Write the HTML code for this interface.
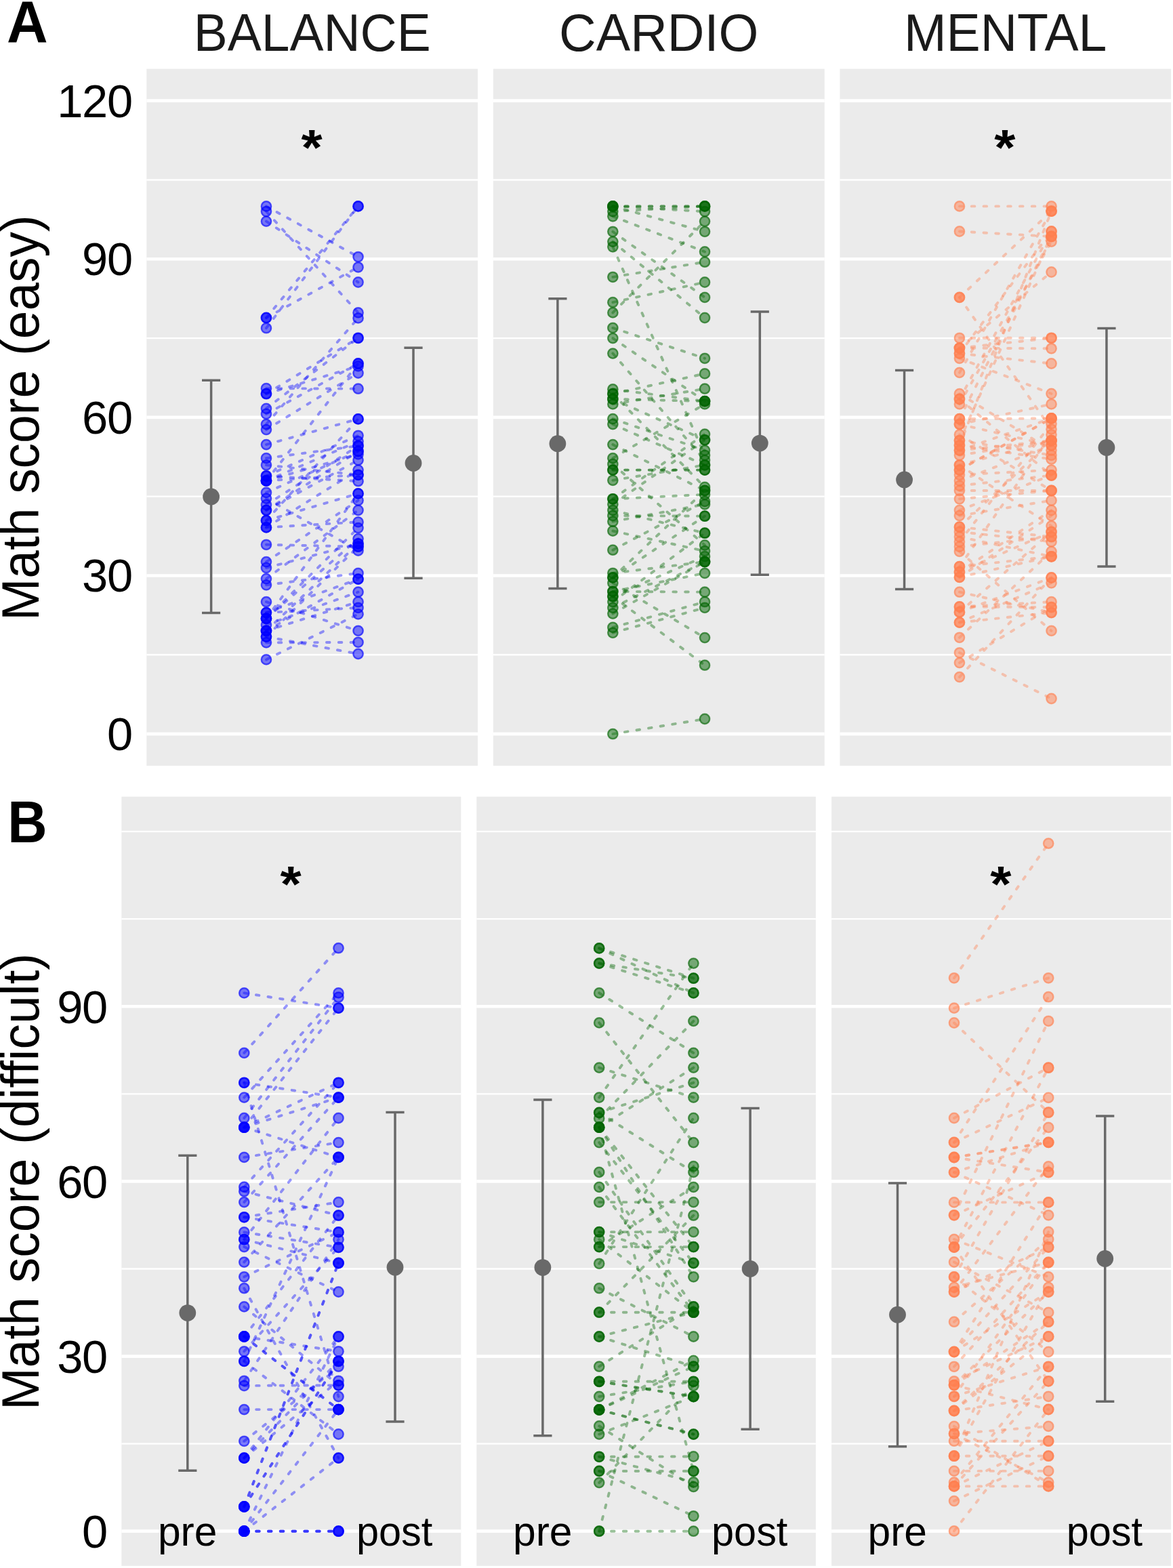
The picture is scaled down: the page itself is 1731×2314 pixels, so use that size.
<!DOCTYPE html>
<html lang="en"><head><meta charset="utf-8"><title>Math score pre/post by intervention group</title>
<style>html,body{margin:0;padding:0;background:#fff}body{width:1731px;height:2314px;overflow:hidden}svg{display:block}text{font-family:"Liberation Sans", sans-serif}</style>
</head><body>
<svg width="1731" height="2314" viewBox="0 0 1731 2314" role="img" aria-label="Math score pre and post by group">
<rect width="1731" height="2314" fill="#fff"/>
<g fill="#ebebeb">
<rect x="216.3" y="101.6" width="488.75" height="1028.5"/>
<rect x="727.9" y="101.6" width="488.85" height="1028.5"/>
<rect x="1239.4" y="101.6" width="488.7" height="1028.5"/>
<rect x="179.35" y="1175.7" width="500.95" height="1135.2"/>
<rect x="703.3" y="1175.7" width="500.6" height="1135.2"/>
<rect x="1227.1" y="1175.7" width="501" height="1135.2"/>
</g>
<g stroke="#fff" fill="none">
<path stroke-width="4.7" d="M216.3 1083.1H705.05"/>
<path stroke-width="4.7" d="M216.3 849.49H705.05"/>
<path stroke-width="4.7" d="M216.3 615.88H705.05"/>
<path stroke-width="4.7" d="M216.3 382.27H705.05"/>
<path stroke-width="4.7" d="M216.3 148.66H705.05"/>
<path stroke-width="2.35" d="M216.3 966.29H705.05"/>
<path stroke-width="2.35" d="M216.3 732.68H705.05"/>
<path stroke-width="2.35" d="M216.3 499.07H705.05"/>
<path stroke-width="2.35" d="M216.3 265.46H705.05"/>
<path stroke-width="4.7" d="M727.9 1083.1H1216.75"/>
<path stroke-width="4.7" d="M727.9 849.49H1216.75"/>
<path stroke-width="4.7" d="M727.9 615.88H1216.75"/>
<path stroke-width="4.7" d="M727.9 382.27H1216.75"/>
<path stroke-width="4.7" d="M727.9 148.66H1216.75"/>
<path stroke-width="2.35" d="M727.9 966.29H1216.75"/>
<path stroke-width="2.35" d="M727.9 732.68H1216.75"/>
<path stroke-width="2.35" d="M727.9 499.07H1216.75"/>
<path stroke-width="2.35" d="M727.9 265.46H1216.75"/>
<path stroke-width="4.7" d="M1239.4 1083.1H1728.1"/>
<path stroke-width="4.7" d="M1239.4 849.49H1728.1"/>
<path stroke-width="4.7" d="M1239.4 615.88H1728.1"/>
<path stroke-width="4.7" d="M1239.4 382.27H1728.1"/>
<path stroke-width="4.7" d="M1239.4 148.66H1728.1"/>
<path stroke-width="2.35" d="M1239.4 966.29H1728.1"/>
<path stroke-width="2.35" d="M1239.4 732.68H1728.1"/>
<path stroke-width="2.35" d="M1239.4 499.07H1728.1"/>
<path stroke-width="2.35" d="M1239.4 265.46H1728.1"/>
<path stroke-width="4.7" d="M179.35 2259.7H680.3"/>
<path stroke-width="4.7" d="M179.35 2001.55H680.3"/>
<path stroke-width="4.7" d="M179.35 1743.4H680.3"/>
<path stroke-width="4.7" d="M179.35 1485.25H680.3"/>
<path stroke-width="2.35" d="M179.35 2130.62H680.3"/>
<path stroke-width="2.35" d="M179.35 1872.47H680.3"/>
<path stroke-width="2.35" d="M179.35 1614.32H680.3"/>
<path stroke-width="2.35" d="M179.35 1356.17H680.3"/>
<path stroke-width="2.35" d="M179.35 1227.1H680.3"/>
<path stroke-width="4.7" d="M703.3 2259.7H1203.9"/>
<path stroke-width="4.7" d="M703.3 2001.55H1203.9"/>
<path stroke-width="4.7" d="M703.3 1743.4H1203.9"/>
<path stroke-width="4.7" d="M703.3 1485.25H1203.9"/>
<path stroke-width="2.35" d="M703.3 2130.62H1203.9"/>
<path stroke-width="2.35" d="M703.3 1872.47H1203.9"/>
<path stroke-width="2.35" d="M703.3 1614.32H1203.9"/>
<path stroke-width="2.35" d="M703.3 1356.17H1203.9"/>
<path stroke-width="2.35" d="M703.3 1227.1H1203.9"/>
<path stroke-width="4.7" d="M1227.1 2259.7H1728.1"/>
<path stroke-width="4.7" d="M1227.1 2001.55H1728.1"/>
<path stroke-width="4.7" d="M1227.1 1743.4H1728.1"/>
<path stroke-width="4.7" d="M1227.1 1485.25H1728.1"/>
<path stroke-width="2.35" d="M1227.1 2130.62H1728.1"/>
<path stroke-width="2.35" d="M1227.1 1872.47H1728.1"/>
<path stroke-width="2.35" d="M1227.1 1614.32H1728.1"/>
<path stroke-width="2.35" d="M1227.1 1356.17H1728.1"/>
<path stroke-width="2.35" d="M1227.1 1227.1H1728.1"/>
</g>
<g id="A1">
<g fill="none" stroke="#0000ff" stroke-opacity="0.4" stroke-width="3.9" stroke-linecap="round" stroke-dasharray="4.6 13.2">
<path d="M392.95 304.4L528.55 379.05"/>
<path d="M392.95 312.05L528.55 461.4"/>
<path d="M392.95 326.6L528.55 416.5"/>
<path d="M392.95 469L528.55 304.4"/>
<path d="M392.95 469L528.55 394.3"/>
<path d="M392.95 484.2L528.55 304.4"/>
<path d="M392.95 626.1L528.55 469.4"/>
<path d="M392.95 581.2L528.55 498.8"/>
<path d="M392.95 573.2L528.55 573.7"/>
<path d="M392.95 948.3L528.55 947.9"/>
<path d="M392.95 939.6L528.55 965"/>
<path d="M392.95 888.2L528.55 930.9"/>
<path d="M392.95 973.4L528.55 906.3"/>
<path d="M392.95 581.2L528.55 540.4"/>
<path d="M392.95 610.9L528.55 536.5"/>
<path d="M392.95 634.1L528.55 550.5"/>
<path d="M392.95 602.9L528.55 498.8"/>
<path d="M392.95 709.5L528.55 536.5"/>
<path d="M392.95 656.1L528.55 618.4"/>
<path d="M392.95 768.2L528.55 618.4"/>
<path d="M392.95 676.2L528.55 658"/>
<path d="M392.95 702.3L528.55 642.8"/>
<path d="M392.95 702.3L528.55 710.2"/>
<path d="M392.95 709.5L528.55 670.4"/>
<path d="M392.95 709.5L528.55 651.5"/>
<path d="M392.95 745L528.55 658"/>
<path d="M392.95 753L528.55 666"/>
<path d="M392.95 726.9L528.55 666"/>
<path d="M392.95 686.3L528.55 700.8"/>
<path d="M392.95 753L528.55 679.1"/>
<path d="M392.95 709.5L528.55 700.8"/>
<path d="M392.95 778.4L528.55 693.6"/>
<path d="M392.95 768.2L528.55 728.4"/>
<path d="M392.95 829.1L528.55 738.5"/>
<path d="M392.95 778.4L528.55 770.4"/>
<path d="M392.95 854.1L528.55 753"/>
<path d="M392.95 912.8L528.55 728.4"/>
<path d="M392.95 735.6L528.55 812.5"/>
<path d="M392.95 803.8L528.55 806.7"/>
<path d="M392.95 863.3L528.55 845.9"/>
<path d="M392.95 838L528.55 802.3"/>
<path d="M392.95 912.8L528.55 795.1"/>
<path d="M392.95 930.9L528.55 802.3"/>
<path d="M392.95 904.1L528.55 854.6"/>
<path d="M392.95 930.9L528.55 888.2"/>
<path d="M392.95 930.9L528.55 854.6"/>
<path d="M392.95 912.8L528.55 779.1"/>
<path d="M392.95 939.6L528.55 806.7"/>
<path d="M392.95 904.1L528.55 896.9"/>
<path d="M392.95 922.2L528.55 873.7"/>
</g>
<g fill="#0000ff" fill-opacity="0.5">
<circle cx="392.95" cy="304.4" r="7.9"/>
<circle cx="392.95" cy="312.05" r="7.9"/>
<circle cx="392.95" cy="326.6" r="7.9"/>
<circle cx="392.95" cy="469" r="7.9"/>
<circle cx="392.95" cy="469" r="7.9"/>
<circle cx="392.95" cy="484.2" r="7.9"/>
<circle cx="392.95" cy="626.1" r="7.9"/>
<circle cx="392.95" cy="581.2" r="7.9"/>
<circle cx="392.95" cy="573.2" r="7.9"/>
<circle cx="392.95" cy="948.3" r="7.9"/>
<circle cx="392.95" cy="939.6" r="7.9"/>
<circle cx="392.95" cy="888.2" r="7.9"/>
<circle cx="392.95" cy="973.4" r="7.9"/>
<circle cx="392.95" cy="581.2" r="7.9"/>
<circle cx="392.95" cy="610.9" r="7.9"/>
<circle cx="392.95" cy="634.1" r="7.9"/>
<circle cx="392.95" cy="602.9" r="7.9"/>
<circle cx="392.95" cy="709.5" r="7.9"/>
<circle cx="392.95" cy="656.1" r="7.9"/>
<circle cx="392.95" cy="768.2" r="7.9"/>
<circle cx="392.95" cy="676.2" r="7.9"/>
<circle cx="392.95" cy="702.3" r="7.9"/>
<circle cx="392.95" cy="702.3" r="7.9"/>
<circle cx="392.95" cy="709.5" r="7.9"/>
<circle cx="392.95" cy="709.5" r="7.9"/>
<circle cx="392.95" cy="745" r="7.9"/>
<circle cx="392.95" cy="753" r="7.9"/>
<circle cx="392.95" cy="726.9" r="7.9"/>
<circle cx="392.95" cy="686.3" r="7.9"/>
<circle cx="392.95" cy="753" r="7.9"/>
<circle cx="392.95" cy="709.5" r="7.9"/>
<circle cx="392.95" cy="778.4" r="7.9"/>
<circle cx="392.95" cy="768.2" r="7.9"/>
<circle cx="392.95" cy="829.1" r="7.9"/>
<circle cx="392.95" cy="778.4" r="7.9"/>
<circle cx="392.95" cy="854.1" r="7.9"/>
<circle cx="392.95" cy="912.8" r="7.9"/>
<circle cx="392.95" cy="735.6" r="7.9"/>
<circle cx="392.95" cy="803.8" r="7.9"/>
<circle cx="392.95" cy="863.3" r="7.9"/>
<circle cx="392.95" cy="838" r="7.9"/>
<circle cx="392.95" cy="912.8" r="7.9"/>
<circle cx="392.95" cy="930.9" r="7.9"/>
<circle cx="392.95" cy="904.1" r="7.9"/>
<circle cx="392.95" cy="930.9" r="7.9"/>
<circle cx="392.95" cy="930.9" r="7.9"/>
<circle cx="392.95" cy="912.8" r="7.9"/>
<circle cx="392.95" cy="939.6" r="7.9"/>
<circle cx="392.95" cy="904.1" r="7.9"/>
<circle cx="392.95" cy="922.2" r="7.9"/>
<circle cx="528.55" cy="379.05" r="7.9"/>
<circle cx="528.55" cy="461.4" r="7.9"/>
<circle cx="528.55" cy="416.5" r="7.9"/>
<circle cx="528.55" cy="304.4" r="7.9"/>
<circle cx="528.55" cy="394.3" r="7.9"/>
<circle cx="528.55" cy="304.4" r="7.9"/>
<circle cx="528.55" cy="469.4" r="7.9"/>
<circle cx="528.55" cy="498.8" r="7.9"/>
<circle cx="528.55" cy="573.7" r="7.9"/>
<circle cx="528.55" cy="947.9" r="7.9"/>
<circle cx="528.55" cy="965" r="7.9"/>
<circle cx="528.55" cy="930.9" r="7.9"/>
<circle cx="528.55" cy="906.3" r="7.9"/>
<circle cx="528.55" cy="540.4" r="7.9"/>
<circle cx="528.55" cy="536.5" r="7.9"/>
<circle cx="528.55" cy="550.5" r="7.9"/>
<circle cx="528.55" cy="498.8" r="7.9"/>
<circle cx="528.55" cy="536.5" r="7.9"/>
<circle cx="528.55" cy="618.4" r="7.9"/>
<circle cx="528.55" cy="618.4" r="7.9"/>
<circle cx="528.55" cy="658" r="7.9"/>
<circle cx="528.55" cy="642.8" r="7.9"/>
<circle cx="528.55" cy="710.2" r="7.9"/>
<circle cx="528.55" cy="670.4" r="7.9"/>
<circle cx="528.55" cy="651.5" r="7.9"/>
<circle cx="528.55" cy="658" r="7.9"/>
<circle cx="528.55" cy="666" r="7.9"/>
<circle cx="528.55" cy="666" r="7.9"/>
<circle cx="528.55" cy="700.8" r="7.9"/>
<circle cx="528.55" cy="679.1" r="7.9"/>
<circle cx="528.55" cy="700.8" r="7.9"/>
<circle cx="528.55" cy="693.6" r="7.9"/>
<circle cx="528.55" cy="728.4" r="7.9"/>
<circle cx="528.55" cy="738.5" r="7.9"/>
<circle cx="528.55" cy="770.4" r="7.9"/>
<circle cx="528.55" cy="753" r="7.9"/>
<circle cx="528.55" cy="728.4" r="7.9"/>
<circle cx="528.55" cy="812.5" r="7.9"/>
<circle cx="528.55" cy="806.7" r="7.9"/>
<circle cx="528.55" cy="845.9" r="7.9"/>
<circle cx="528.55" cy="802.3" r="7.9"/>
<circle cx="528.55" cy="795.1" r="7.9"/>
<circle cx="528.55" cy="802.3" r="7.9"/>
<circle cx="528.55" cy="854.6" r="7.9"/>
<circle cx="528.55" cy="888.2" r="7.9"/>
<circle cx="528.55" cy="854.6" r="7.9"/>
<circle cx="528.55" cy="779.1" r="7.9"/>
<circle cx="528.55" cy="806.7" r="7.9"/>
<circle cx="528.55" cy="896.9" r="7.9"/>
<circle cx="528.55" cy="873.7" r="7.9"/>
</g>
<g fill="none" stroke="#0000ff" stroke-opacity="0.5" stroke-width="2.5">
<circle cx="392.95" cy="304.4" r="7.15"/>
<circle cx="392.95" cy="312.05" r="7.15"/>
<circle cx="392.95" cy="326.6" r="7.15"/>
<circle cx="392.95" cy="469" r="7.15"/>
<circle cx="392.95" cy="469" r="7.15"/>
<circle cx="392.95" cy="484.2" r="7.15"/>
<circle cx="392.95" cy="626.1" r="7.15"/>
<circle cx="392.95" cy="581.2" r="7.15"/>
<circle cx="392.95" cy="573.2" r="7.15"/>
<circle cx="392.95" cy="948.3" r="7.15"/>
<circle cx="392.95" cy="939.6" r="7.15"/>
<circle cx="392.95" cy="888.2" r="7.15"/>
<circle cx="392.95" cy="973.4" r="7.15"/>
<circle cx="392.95" cy="581.2" r="7.15"/>
<circle cx="392.95" cy="610.9" r="7.15"/>
<circle cx="392.95" cy="634.1" r="7.15"/>
<circle cx="392.95" cy="602.9" r="7.15"/>
<circle cx="392.95" cy="709.5" r="7.15"/>
<circle cx="392.95" cy="656.1" r="7.15"/>
<circle cx="392.95" cy="768.2" r="7.15"/>
<circle cx="392.95" cy="676.2" r="7.15"/>
<circle cx="392.95" cy="702.3" r="7.15"/>
<circle cx="392.95" cy="702.3" r="7.15"/>
<circle cx="392.95" cy="709.5" r="7.15"/>
<circle cx="392.95" cy="709.5" r="7.15"/>
<circle cx="392.95" cy="745" r="7.15"/>
<circle cx="392.95" cy="753" r="7.15"/>
<circle cx="392.95" cy="726.9" r="7.15"/>
<circle cx="392.95" cy="686.3" r="7.15"/>
<circle cx="392.95" cy="753" r="7.15"/>
<circle cx="392.95" cy="709.5" r="7.15"/>
<circle cx="392.95" cy="778.4" r="7.15"/>
<circle cx="392.95" cy="768.2" r="7.15"/>
<circle cx="392.95" cy="829.1" r="7.15"/>
<circle cx="392.95" cy="778.4" r="7.15"/>
<circle cx="392.95" cy="854.1" r="7.15"/>
<circle cx="392.95" cy="912.8" r="7.15"/>
<circle cx="392.95" cy="735.6" r="7.15"/>
<circle cx="392.95" cy="803.8" r="7.15"/>
<circle cx="392.95" cy="863.3" r="7.15"/>
<circle cx="392.95" cy="838" r="7.15"/>
<circle cx="392.95" cy="912.8" r="7.15"/>
<circle cx="392.95" cy="930.9" r="7.15"/>
<circle cx="392.95" cy="904.1" r="7.15"/>
<circle cx="392.95" cy="930.9" r="7.15"/>
<circle cx="392.95" cy="930.9" r="7.15"/>
<circle cx="392.95" cy="912.8" r="7.15"/>
<circle cx="392.95" cy="939.6" r="7.15"/>
<circle cx="392.95" cy="904.1" r="7.15"/>
<circle cx="392.95" cy="922.2" r="7.15"/>
<circle cx="528.55" cy="379.05" r="7.15"/>
<circle cx="528.55" cy="461.4" r="7.15"/>
<circle cx="528.55" cy="416.5" r="7.15"/>
<circle cx="528.55" cy="304.4" r="7.15"/>
<circle cx="528.55" cy="394.3" r="7.15"/>
<circle cx="528.55" cy="304.4" r="7.15"/>
<circle cx="528.55" cy="469.4" r="7.15"/>
<circle cx="528.55" cy="498.8" r="7.15"/>
<circle cx="528.55" cy="573.7" r="7.15"/>
<circle cx="528.55" cy="947.9" r="7.15"/>
<circle cx="528.55" cy="965" r="7.15"/>
<circle cx="528.55" cy="930.9" r="7.15"/>
<circle cx="528.55" cy="906.3" r="7.15"/>
<circle cx="528.55" cy="540.4" r="7.15"/>
<circle cx="528.55" cy="536.5" r="7.15"/>
<circle cx="528.55" cy="550.5" r="7.15"/>
<circle cx="528.55" cy="498.8" r="7.15"/>
<circle cx="528.55" cy="536.5" r="7.15"/>
<circle cx="528.55" cy="618.4" r="7.15"/>
<circle cx="528.55" cy="618.4" r="7.15"/>
<circle cx="528.55" cy="658" r="7.15"/>
<circle cx="528.55" cy="642.8" r="7.15"/>
<circle cx="528.55" cy="710.2" r="7.15"/>
<circle cx="528.55" cy="670.4" r="7.15"/>
<circle cx="528.55" cy="651.5" r="7.15"/>
<circle cx="528.55" cy="658" r="7.15"/>
<circle cx="528.55" cy="666" r="7.15"/>
<circle cx="528.55" cy="666" r="7.15"/>
<circle cx="528.55" cy="700.8" r="7.15"/>
<circle cx="528.55" cy="679.1" r="7.15"/>
<circle cx="528.55" cy="700.8" r="7.15"/>
<circle cx="528.55" cy="693.6" r="7.15"/>
<circle cx="528.55" cy="728.4" r="7.15"/>
<circle cx="528.55" cy="738.5" r="7.15"/>
<circle cx="528.55" cy="770.4" r="7.15"/>
<circle cx="528.55" cy="753" r="7.15"/>
<circle cx="528.55" cy="728.4" r="7.15"/>
<circle cx="528.55" cy="812.5" r="7.15"/>
<circle cx="528.55" cy="806.7" r="7.15"/>
<circle cx="528.55" cy="845.9" r="7.15"/>
<circle cx="528.55" cy="802.3" r="7.15"/>
<circle cx="528.55" cy="795.1" r="7.15"/>
<circle cx="528.55" cy="802.3" r="7.15"/>
<circle cx="528.55" cy="854.6" r="7.15"/>
<circle cx="528.55" cy="888.2" r="7.15"/>
<circle cx="528.55" cy="854.6" r="7.15"/>
<circle cx="528.55" cy="779.1" r="7.15"/>
<circle cx="528.55" cy="806.7" r="7.15"/>
<circle cx="528.55" cy="896.9" r="7.15"/>
<circle cx="528.55" cy="873.7" r="7.15"/>
</g>
<g stroke="#696969" stroke-width="3.5" fill="#696969">
<path d="M311.6 561.3V904.5 M298 561.3H325.2 M298 904.5H325.2" fill="none"/>
<circle cx="311.6" cy="732.9" r="12.4" stroke="none"/>
<path d="M610 513.3V853.2 M596.4 513.3H623.6 M596.4 853.2H623.6" fill="none"/>
<circle cx="610" cy="683.4" r="12.4" stroke="none"/>
</g>
</g>
<g id="A2">
<g fill="none" stroke="#006400" stroke-opacity="0.4" stroke-width="3.9" stroke-linecap="round" stroke-dasharray="4.6 13.2">
<path d="M904.35 304.4L1040.05 304.4"/>
<path d="M904.35 304.4L1040.05 304.4"/>
<path d="M904.35 304.4L1040.05 312.1"/>
<path d="M904.35 304.4L1040.05 341.8"/>
<path d="M904.35 312.1L1040.05 304.4"/>
<path d="M904.35 319.3L1040.05 371.5"/>
<path d="M904.35 341.8L1040.05 438.9"/>
<path d="M904.35 356.6L1040.05 469"/>
<path d="M904.35 364.3L1040.05 671.8"/>
<path d="M904.35 461.4L1040.05 326.6"/>
<path d="M904.35 408.8L1040.05 386.7"/>
<path d="M904.35 446.2L1040.05 416.5"/>
<path d="M904.35 483.9L1040.05 528.8"/>
<path d="M904.35 499.1L1040.05 592.1"/>
<path d="M904.35 521.6L1040.05 679.1"/>
<path d="M904.35 581.2L1040.05 551.4"/>
<path d="M904.35 596.4L1040.05 573.7"/>
<path d="M904.35 1083.2L1040.05 1061"/>
<path d="M904.35 880.2L1040.05 981.7"/>
<path d="M904.35 860.5L1040.05 941.1"/>
<path d="M904.35 925.9L1040.05 888.2"/>
<path d="M904.35 933.8L1040.05 896.9"/>
<path d="M904.35 872.9L1040.05 873.7"/>
<path d="M904.35 872.9L1040.05 845.9"/>
<path d="M904.35 693.6L1040.05 693.6"/>
<path d="M904.35 693.6L1040.05 693.6"/>
<path d="M904.35 574.4L1040.05 592.1"/>
<path d="M904.35 588.9L1040.05 592.1"/>
<path d="M904.35 676.2L1040.05 596.4"/>
<path d="M904.35 588.9L1040.05 649.3"/>
<path d="M904.35 581.2L1040.05 718.9"/>
<path d="M904.35 618.2L1040.05 664.6"/>
<path d="M904.35 626.1L1040.05 686.3"/>
<path d="M904.35 656.1L1040.05 724"/>
<path d="M904.35 736.3L1040.05 640.6"/>
<path d="M904.35 744.3L1040.05 649.3"/>
<path d="M904.35 736.3L1040.05 729.8"/>
<path d="M904.35 708.8L1040.05 686.3"/>
<path d="M904.35 811.7L1040.05 740"/>
<path d="M904.35 753L1040.05 786.7"/>
<path d="M904.35 761L1040.05 761.7"/>
<path d="M904.35 684.9L1040.05 804.5"/>
<path d="M904.35 769.7L1040.05 744.3"/>
<path d="M904.35 852.3L1040.05 761.7"/>
<path d="M904.35 852.3L1040.05 724"/>
<path d="M904.35 896.9L1040.05 829.1"/>
<path d="M904.35 783.5L1040.05 813.2"/>
<path d="M904.35 880.2L1040.05 821.2"/>
<path d="M904.35 888.2L1040.05 786.7"/>
<path d="M904.35 845.8L1040.05 829.1"/>
<path d="M904.35 905.6L1040.05 829.1"/>
</g>
<g fill="#006400" fill-opacity="0.5">
<circle cx="904.35" cy="304.4" r="7.9"/>
<circle cx="904.35" cy="304.4" r="7.9"/>
<circle cx="904.35" cy="304.4" r="7.9"/>
<circle cx="904.35" cy="304.4" r="7.9"/>
<circle cx="904.35" cy="312.1" r="7.9"/>
<circle cx="904.35" cy="319.3" r="7.9"/>
<circle cx="904.35" cy="341.8" r="7.9"/>
<circle cx="904.35" cy="356.6" r="7.9"/>
<circle cx="904.35" cy="364.3" r="7.9"/>
<circle cx="904.35" cy="461.4" r="7.9"/>
<circle cx="904.35" cy="408.8" r="7.9"/>
<circle cx="904.35" cy="446.2" r="7.9"/>
<circle cx="904.35" cy="483.9" r="7.9"/>
<circle cx="904.35" cy="499.1" r="7.9"/>
<circle cx="904.35" cy="521.6" r="7.9"/>
<circle cx="904.35" cy="581.2" r="7.9"/>
<circle cx="904.35" cy="596.4" r="7.9"/>
<circle cx="904.35" cy="1083.2" r="7.9"/>
<circle cx="904.35" cy="880.2" r="7.9"/>
<circle cx="904.35" cy="860.5" r="7.9"/>
<circle cx="904.35" cy="925.9" r="7.9"/>
<circle cx="904.35" cy="933.8" r="7.9"/>
<circle cx="904.35" cy="872.9" r="7.9"/>
<circle cx="904.35" cy="872.9" r="7.9"/>
<circle cx="904.35" cy="693.6" r="7.9"/>
<circle cx="904.35" cy="693.6" r="7.9"/>
<circle cx="904.35" cy="574.4" r="7.9"/>
<circle cx="904.35" cy="588.9" r="7.9"/>
<circle cx="904.35" cy="676.2" r="7.9"/>
<circle cx="904.35" cy="588.9" r="7.9"/>
<circle cx="904.35" cy="581.2" r="7.9"/>
<circle cx="904.35" cy="618.2" r="7.9"/>
<circle cx="904.35" cy="626.1" r="7.9"/>
<circle cx="904.35" cy="656.1" r="7.9"/>
<circle cx="904.35" cy="736.3" r="7.9"/>
<circle cx="904.35" cy="744.3" r="7.9"/>
<circle cx="904.35" cy="736.3" r="7.9"/>
<circle cx="904.35" cy="708.8" r="7.9"/>
<circle cx="904.35" cy="811.7" r="7.9"/>
<circle cx="904.35" cy="753" r="7.9"/>
<circle cx="904.35" cy="761" r="7.9"/>
<circle cx="904.35" cy="684.9" r="7.9"/>
<circle cx="904.35" cy="769.7" r="7.9"/>
<circle cx="904.35" cy="852.3" r="7.9"/>
<circle cx="904.35" cy="852.3" r="7.9"/>
<circle cx="904.35" cy="896.9" r="7.9"/>
<circle cx="904.35" cy="783.5" r="7.9"/>
<circle cx="904.35" cy="880.2" r="7.9"/>
<circle cx="904.35" cy="888.2" r="7.9"/>
<circle cx="904.35" cy="845.8" r="7.9"/>
<circle cx="904.35" cy="905.6" r="7.9"/>
<circle cx="1040.05" cy="304.4" r="7.9"/>
<circle cx="1040.05" cy="304.4" r="7.9"/>
<circle cx="1040.05" cy="312.1" r="7.9"/>
<circle cx="1040.05" cy="341.8" r="7.9"/>
<circle cx="1040.05" cy="304.4" r="7.9"/>
<circle cx="1040.05" cy="371.5" r="7.9"/>
<circle cx="1040.05" cy="438.9" r="7.9"/>
<circle cx="1040.05" cy="469" r="7.9"/>
<circle cx="1040.05" cy="671.8" r="7.9"/>
<circle cx="1040.05" cy="326.6" r="7.9"/>
<circle cx="1040.05" cy="386.7" r="7.9"/>
<circle cx="1040.05" cy="416.5" r="7.9"/>
<circle cx="1040.05" cy="528.8" r="7.9"/>
<circle cx="1040.05" cy="592.1" r="7.9"/>
<circle cx="1040.05" cy="679.1" r="7.9"/>
<circle cx="1040.05" cy="551.4" r="7.9"/>
<circle cx="1040.05" cy="573.7" r="7.9"/>
<circle cx="1040.05" cy="1061" r="7.9"/>
<circle cx="1040.05" cy="981.7" r="7.9"/>
<circle cx="1040.05" cy="941.1" r="7.9"/>
<circle cx="1040.05" cy="888.2" r="7.9"/>
<circle cx="1040.05" cy="896.9" r="7.9"/>
<circle cx="1040.05" cy="873.7" r="7.9"/>
<circle cx="1040.05" cy="845.9" r="7.9"/>
<circle cx="1040.05" cy="693.6" r="7.9"/>
<circle cx="1040.05" cy="693.6" r="7.9"/>
<circle cx="1040.05" cy="592.1" r="7.9"/>
<circle cx="1040.05" cy="592.1" r="7.9"/>
<circle cx="1040.05" cy="596.4" r="7.9"/>
<circle cx="1040.05" cy="649.3" r="7.9"/>
<circle cx="1040.05" cy="718.9" r="7.9"/>
<circle cx="1040.05" cy="664.6" r="7.9"/>
<circle cx="1040.05" cy="686.3" r="7.9"/>
<circle cx="1040.05" cy="724" r="7.9"/>
<circle cx="1040.05" cy="640.6" r="7.9"/>
<circle cx="1040.05" cy="649.3" r="7.9"/>
<circle cx="1040.05" cy="729.8" r="7.9"/>
<circle cx="1040.05" cy="686.3" r="7.9"/>
<circle cx="1040.05" cy="740" r="7.9"/>
<circle cx="1040.05" cy="786.7" r="7.9"/>
<circle cx="1040.05" cy="761.7" r="7.9"/>
<circle cx="1040.05" cy="804.5" r="7.9"/>
<circle cx="1040.05" cy="744.3" r="7.9"/>
<circle cx="1040.05" cy="761.7" r="7.9"/>
<circle cx="1040.05" cy="724" r="7.9"/>
<circle cx="1040.05" cy="829.1" r="7.9"/>
<circle cx="1040.05" cy="813.2" r="7.9"/>
<circle cx="1040.05" cy="821.2" r="7.9"/>
<circle cx="1040.05" cy="786.7" r="7.9"/>
<circle cx="1040.05" cy="829.1" r="7.9"/>
<circle cx="1040.05" cy="829.1" r="7.9"/>
</g>
<g fill="none" stroke="#006400" stroke-opacity="0.5" stroke-width="2.5">
<circle cx="904.35" cy="304.4" r="7.15"/>
<circle cx="904.35" cy="304.4" r="7.15"/>
<circle cx="904.35" cy="304.4" r="7.15"/>
<circle cx="904.35" cy="304.4" r="7.15"/>
<circle cx="904.35" cy="312.1" r="7.15"/>
<circle cx="904.35" cy="319.3" r="7.15"/>
<circle cx="904.35" cy="341.8" r="7.15"/>
<circle cx="904.35" cy="356.6" r="7.15"/>
<circle cx="904.35" cy="364.3" r="7.15"/>
<circle cx="904.35" cy="461.4" r="7.15"/>
<circle cx="904.35" cy="408.8" r="7.15"/>
<circle cx="904.35" cy="446.2" r="7.15"/>
<circle cx="904.35" cy="483.9" r="7.15"/>
<circle cx="904.35" cy="499.1" r="7.15"/>
<circle cx="904.35" cy="521.6" r="7.15"/>
<circle cx="904.35" cy="581.2" r="7.15"/>
<circle cx="904.35" cy="596.4" r="7.15"/>
<circle cx="904.35" cy="1083.2" r="7.15"/>
<circle cx="904.35" cy="880.2" r="7.15"/>
<circle cx="904.35" cy="860.5" r="7.15"/>
<circle cx="904.35" cy="925.9" r="7.15"/>
<circle cx="904.35" cy="933.8" r="7.15"/>
<circle cx="904.35" cy="872.9" r="7.15"/>
<circle cx="904.35" cy="872.9" r="7.15"/>
<circle cx="904.35" cy="693.6" r="7.15"/>
<circle cx="904.35" cy="693.6" r="7.15"/>
<circle cx="904.35" cy="574.4" r="7.15"/>
<circle cx="904.35" cy="588.9" r="7.15"/>
<circle cx="904.35" cy="676.2" r="7.15"/>
<circle cx="904.35" cy="588.9" r="7.15"/>
<circle cx="904.35" cy="581.2" r="7.15"/>
<circle cx="904.35" cy="618.2" r="7.15"/>
<circle cx="904.35" cy="626.1" r="7.15"/>
<circle cx="904.35" cy="656.1" r="7.15"/>
<circle cx="904.35" cy="736.3" r="7.15"/>
<circle cx="904.35" cy="744.3" r="7.15"/>
<circle cx="904.35" cy="736.3" r="7.15"/>
<circle cx="904.35" cy="708.8" r="7.15"/>
<circle cx="904.35" cy="811.7" r="7.15"/>
<circle cx="904.35" cy="753" r="7.15"/>
<circle cx="904.35" cy="761" r="7.15"/>
<circle cx="904.35" cy="684.9" r="7.15"/>
<circle cx="904.35" cy="769.7" r="7.15"/>
<circle cx="904.35" cy="852.3" r="7.15"/>
<circle cx="904.35" cy="852.3" r="7.15"/>
<circle cx="904.35" cy="896.9" r="7.15"/>
<circle cx="904.35" cy="783.5" r="7.15"/>
<circle cx="904.35" cy="880.2" r="7.15"/>
<circle cx="904.35" cy="888.2" r="7.15"/>
<circle cx="904.35" cy="845.8" r="7.15"/>
<circle cx="904.35" cy="905.6" r="7.15"/>
<circle cx="1040.05" cy="304.4" r="7.15"/>
<circle cx="1040.05" cy="304.4" r="7.15"/>
<circle cx="1040.05" cy="312.1" r="7.15"/>
<circle cx="1040.05" cy="341.8" r="7.15"/>
<circle cx="1040.05" cy="304.4" r="7.15"/>
<circle cx="1040.05" cy="371.5" r="7.15"/>
<circle cx="1040.05" cy="438.9" r="7.15"/>
<circle cx="1040.05" cy="469" r="7.15"/>
<circle cx="1040.05" cy="671.8" r="7.15"/>
<circle cx="1040.05" cy="326.6" r="7.15"/>
<circle cx="1040.05" cy="386.7" r="7.15"/>
<circle cx="1040.05" cy="416.5" r="7.15"/>
<circle cx="1040.05" cy="528.8" r="7.15"/>
<circle cx="1040.05" cy="592.1" r="7.15"/>
<circle cx="1040.05" cy="679.1" r="7.15"/>
<circle cx="1040.05" cy="551.4" r="7.15"/>
<circle cx="1040.05" cy="573.7" r="7.15"/>
<circle cx="1040.05" cy="1061" r="7.15"/>
<circle cx="1040.05" cy="981.7" r="7.15"/>
<circle cx="1040.05" cy="941.1" r="7.15"/>
<circle cx="1040.05" cy="888.2" r="7.15"/>
<circle cx="1040.05" cy="896.9" r="7.15"/>
<circle cx="1040.05" cy="873.7" r="7.15"/>
<circle cx="1040.05" cy="845.9" r="7.15"/>
<circle cx="1040.05" cy="693.6" r="7.15"/>
<circle cx="1040.05" cy="693.6" r="7.15"/>
<circle cx="1040.05" cy="592.1" r="7.15"/>
<circle cx="1040.05" cy="592.1" r="7.15"/>
<circle cx="1040.05" cy="596.4" r="7.15"/>
<circle cx="1040.05" cy="649.3" r="7.15"/>
<circle cx="1040.05" cy="718.9" r="7.15"/>
<circle cx="1040.05" cy="664.6" r="7.15"/>
<circle cx="1040.05" cy="686.3" r="7.15"/>
<circle cx="1040.05" cy="724" r="7.15"/>
<circle cx="1040.05" cy="640.6" r="7.15"/>
<circle cx="1040.05" cy="649.3" r="7.15"/>
<circle cx="1040.05" cy="729.8" r="7.15"/>
<circle cx="1040.05" cy="686.3" r="7.15"/>
<circle cx="1040.05" cy="740" r="7.15"/>
<circle cx="1040.05" cy="786.7" r="7.15"/>
<circle cx="1040.05" cy="761.7" r="7.15"/>
<circle cx="1040.05" cy="804.5" r="7.15"/>
<circle cx="1040.05" cy="744.3" r="7.15"/>
<circle cx="1040.05" cy="761.7" r="7.15"/>
<circle cx="1040.05" cy="724" r="7.15"/>
<circle cx="1040.05" cy="829.1" r="7.15"/>
<circle cx="1040.05" cy="813.2" r="7.15"/>
<circle cx="1040.05" cy="821.2" r="7.15"/>
<circle cx="1040.05" cy="786.7" r="7.15"/>
<circle cx="1040.05" cy="829.1" r="7.15"/>
<circle cx="1040.05" cy="829.1" r="7.15"/>
</g>
<g stroke="#696969" stroke-width="3.5" fill="#696969">
<path d="M822.9 440.8V868.6 M809.3 440.8H836.5 M809.3 868.6H836.5" fill="none"/>
<circle cx="822.9" cy="654.7" r="12.4" stroke="none"/>
<path d="M1121.3 460.1V848.3 M1107.7 460.1H1134.9 M1107.7 848.3H1134.9" fill="none"/>
<circle cx="1121.3" cy="654.1" r="12.4" stroke="none"/>
</g>
</g>
<g id="A3">
<g fill="none" stroke="#ff7f50" stroke-opacity="0.4" stroke-width="3.9" stroke-linecap="round" stroke-dasharray="4.6 13.2">
<path d="M1415.95 304.4L1551.55 304.4"/>
<path d="M1415.95 341.5L1551.55 349"/>
<path d="M1415.95 438.9L1551.55 311.6"/>
<path d="M1415.95 438.9L1551.55 633.4"/>
<path d="M1415.95 513.6L1551.55 401.5"/>
<path d="M1415.95 657.3L1551.55 311.6"/>
<path d="M1415.95 618.2L1551.55 349"/>
<path d="M1415.95 498.8L1551.55 498.8"/>
<path d="M1415.95 513.6L1551.55 498.8"/>
<path d="M1415.95 521.6L1551.55 341.5"/>
<path d="M1415.95 521.6L1551.55 536.5"/>
<path d="M1415.95 513.6L1551.55 514.3"/>
<path d="M1415.95 963.3L1551.55 1031"/>
<path d="M1415.95 999.1L1551.55 852.5"/>
<path d="M1415.95 978.1L1551.55 896.1"/>
<path d="M1415.95 895.4L1551.55 896.1"/>
<path d="M1415.95 918.6L1551.55 904.1"/>
<path d="M1415.95 940.8L1551.55 813.9"/>
<path d="M1415.95 813.9L1551.55 930.9"/>
<path d="M1415.95 549.9L1551.55 311.6"/>
<path d="M1415.95 596.4L1551.55 356.6"/>
<path d="M1415.95 589L1551.55 341.5"/>
<path d="M1415.95 650.1L1551.55 349"/>
<path d="M1415.95 618.2L1551.55 617.4"/>
<path d="M1415.95 528.8L1551.55 581"/>
<path d="M1415.95 581.2L1551.55 664.6"/>
<path d="M1415.95 589L1551.55 701.5"/>
<path d="M1415.95 650.1L1551.55 671.8"/>
<path d="M1415.95 657.3L1551.55 677.6"/>
<path d="M1415.95 626.1L1551.55 596.4"/>
<path d="M1415.95 664.6L1551.55 617.4"/>
<path d="M1415.95 693.6L1551.55 617.4"/>
<path d="M1415.95 626.1L1551.55 657.3"/>
<path d="M1415.95 664.6L1551.55 650.1"/>
<path d="M1415.95 709.5L1551.55 657.3"/>
<path d="M1415.95 693.6L1551.55 617.4"/>
<path d="M1415.95 724L1551.55 724"/>
<path d="M1415.95 686.3L1551.55 650.1"/>
<path d="M1415.95 716.8L1551.55 701.5"/>
<path d="M1415.95 641.4L1551.55 724"/>
<path d="M1415.95 686.3L1551.55 776.2"/>
<path d="M1415.95 736.3L1551.55 724"/>
<path d="M1415.95 761L1551.55 738.5"/>
<path d="M1415.95 700.8L1551.55 693.6"/>
<path d="M1415.95 777.7L1551.55 650.1"/>
<path d="M1415.95 799.4L1551.55 625.4"/>
<path d="M1415.95 753L1551.55 701.5"/>
<path d="M1415.95 671.8L1551.55 650.1"/>
<path d="M1415.95 806.7L1551.55 792.2"/>
<path d="M1415.95 851.8L1551.55 761"/>
<path d="M1415.95 792.2L1551.55 821.3"/>
<path d="M1415.95 777.7L1551.55 792.2"/>
<path d="M1415.95 836.2L1551.55 641.4"/>
<path d="M1415.95 844.2L1551.55 784.9"/>
<path d="M1415.95 784.9L1551.55 799.4"/>
<path d="M1415.95 851.8L1551.55 821.3"/>
<path d="M1415.95 844.2L1551.55 753"/>
<path d="M1415.95 903.4L1551.55 784.9"/>
<path d="M1415.95 836.2L1551.55 821.3"/>
<path d="M1415.95 895.4L1551.55 888.2"/>
<path d="M1415.95 903.4L1551.55 852.5"/>
<path d="M1415.95 873.7L1551.55 904.1"/>
<path d="M1415.95 918.6L1551.55 860.3"/>
</g>
<g fill="#ff7f50" fill-opacity="0.5">
<circle cx="1415.95" cy="304.4" r="7.9"/>
<circle cx="1415.95" cy="341.5" r="7.9"/>
<circle cx="1415.95" cy="438.9" r="7.9"/>
<circle cx="1415.95" cy="438.9" r="7.9"/>
<circle cx="1415.95" cy="513.6" r="7.9"/>
<circle cx="1415.95" cy="657.3" r="7.9"/>
<circle cx="1415.95" cy="618.2" r="7.9"/>
<circle cx="1415.95" cy="498.8" r="7.9"/>
<circle cx="1415.95" cy="513.6" r="7.9"/>
<circle cx="1415.95" cy="521.6" r="7.9"/>
<circle cx="1415.95" cy="521.6" r="7.9"/>
<circle cx="1415.95" cy="513.6" r="7.9"/>
<circle cx="1415.95" cy="963.3" r="7.9"/>
<circle cx="1415.95" cy="999.1" r="7.9"/>
<circle cx="1415.95" cy="978.1" r="7.9"/>
<circle cx="1415.95" cy="895.4" r="7.9"/>
<circle cx="1415.95" cy="918.6" r="7.9"/>
<circle cx="1415.95" cy="940.8" r="7.9"/>
<circle cx="1415.95" cy="813.9" r="7.9"/>
<circle cx="1415.95" cy="549.9" r="7.9"/>
<circle cx="1415.95" cy="596.4" r="7.9"/>
<circle cx="1415.95" cy="589" r="7.9"/>
<circle cx="1415.95" cy="650.1" r="7.9"/>
<circle cx="1415.95" cy="618.2" r="7.9"/>
<circle cx="1415.95" cy="528.8" r="7.9"/>
<circle cx="1415.95" cy="581.2" r="7.9"/>
<circle cx="1415.95" cy="589" r="7.9"/>
<circle cx="1415.95" cy="650.1" r="7.9"/>
<circle cx="1415.95" cy="657.3" r="7.9"/>
<circle cx="1415.95" cy="626.1" r="7.9"/>
<circle cx="1415.95" cy="664.6" r="7.9"/>
<circle cx="1415.95" cy="693.6" r="7.9"/>
<circle cx="1415.95" cy="626.1" r="7.9"/>
<circle cx="1415.95" cy="664.6" r="7.9"/>
<circle cx="1415.95" cy="709.5" r="7.9"/>
<circle cx="1415.95" cy="693.6" r="7.9"/>
<circle cx="1415.95" cy="724" r="7.9"/>
<circle cx="1415.95" cy="686.3" r="7.9"/>
<circle cx="1415.95" cy="716.8" r="7.9"/>
<circle cx="1415.95" cy="641.4" r="7.9"/>
<circle cx="1415.95" cy="686.3" r="7.9"/>
<circle cx="1415.95" cy="736.3" r="7.9"/>
<circle cx="1415.95" cy="761" r="7.9"/>
<circle cx="1415.95" cy="700.8" r="7.9"/>
<circle cx="1415.95" cy="777.7" r="7.9"/>
<circle cx="1415.95" cy="799.4" r="7.9"/>
<circle cx="1415.95" cy="753" r="7.9"/>
<circle cx="1415.95" cy="671.8" r="7.9"/>
<circle cx="1415.95" cy="806.7" r="7.9"/>
<circle cx="1415.95" cy="851.8" r="7.9"/>
<circle cx="1415.95" cy="792.2" r="7.9"/>
<circle cx="1415.95" cy="777.7" r="7.9"/>
<circle cx="1415.95" cy="836.2" r="7.9"/>
<circle cx="1415.95" cy="844.2" r="7.9"/>
<circle cx="1415.95" cy="784.9" r="7.9"/>
<circle cx="1415.95" cy="851.8" r="7.9"/>
<circle cx="1415.95" cy="844.2" r="7.9"/>
<circle cx="1415.95" cy="903.4" r="7.9"/>
<circle cx="1415.95" cy="836.2" r="7.9"/>
<circle cx="1415.95" cy="895.4" r="7.9"/>
<circle cx="1415.95" cy="903.4" r="7.9"/>
<circle cx="1415.95" cy="873.7" r="7.9"/>
<circle cx="1415.95" cy="918.6" r="7.9"/>
<circle cx="1551.55" cy="304.4" r="7.9"/>
<circle cx="1551.55" cy="349" r="7.9"/>
<circle cx="1551.55" cy="311.6" r="7.9"/>
<circle cx="1551.55" cy="633.4" r="7.9"/>
<circle cx="1551.55" cy="401.5" r="7.9"/>
<circle cx="1551.55" cy="311.6" r="7.9"/>
<circle cx="1551.55" cy="349" r="7.9"/>
<circle cx="1551.55" cy="498.8" r="7.9"/>
<circle cx="1551.55" cy="498.8" r="7.9"/>
<circle cx="1551.55" cy="341.5" r="7.9"/>
<circle cx="1551.55" cy="536.5" r="7.9"/>
<circle cx="1551.55" cy="514.3" r="7.9"/>
<circle cx="1551.55" cy="1031" r="7.9"/>
<circle cx="1551.55" cy="852.5" r="7.9"/>
<circle cx="1551.55" cy="896.1" r="7.9"/>
<circle cx="1551.55" cy="896.1" r="7.9"/>
<circle cx="1551.55" cy="904.1" r="7.9"/>
<circle cx="1551.55" cy="813.9" r="7.9"/>
<circle cx="1551.55" cy="930.9" r="7.9"/>
<circle cx="1551.55" cy="311.6" r="7.9"/>
<circle cx="1551.55" cy="356.6" r="7.9"/>
<circle cx="1551.55" cy="341.5" r="7.9"/>
<circle cx="1551.55" cy="349" r="7.9"/>
<circle cx="1551.55" cy="617.4" r="7.9"/>
<circle cx="1551.55" cy="581" r="7.9"/>
<circle cx="1551.55" cy="664.6" r="7.9"/>
<circle cx="1551.55" cy="701.5" r="7.9"/>
<circle cx="1551.55" cy="671.8" r="7.9"/>
<circle cx="1551.55" cy="677.6" r="7.9"/>
<circle cx="1551.55" cy="596.4" r="7.9"/>
<circle cx="1551.55" cy="617.4" r="7.9"/>
<circle cx="1551.55" cy="617.4" r="7.9"/>
<circle cx="1551.55" cy="657.3" r="7.9"/>
<circle cx="1551.55" cy="650.1" r="7.9"/>
<circle cx="1551.55" cy="657.3" r="7.9"/>
<circle cx="1551.55" cy="617.4" r="7.9"/>
<circle cx="1551.55" cy="724" r="7.9"/>
<circle cx="1551.55" cy="650.1" r="7.9"/>
<circle cx="1551.55" cy="701.5" r="7.9"/>
<circle cx="1551.55" cy="724" r="7.9"/>
<circle cx="1551.55" cy="776.2" r="7.9"/>
<circle cx="1551.55" cy="724" r="7.9"/>
<circle cx="1551.55" cy="738.5" r="7.9"/>
<circle cx="1551.55" cy="693.6" r="7.9"/>
<circle cx="1551.55" cy="650.1" r="7.9"/>
<circle cx="1551.55" cy="625.4" r="7.9"/>
<circle cx="1551.55" cy="701.5" r="7.9"/>
<circle cx="1551.55" cy="650.1" r="7.9"/>
<circle cx="1551.55" cy="792.2" r="7.9"/>
<circle cx="1551.55" cy="761" r="7.9"/>
<circle cx="1551.55" cy="821.3" r="7.9"/>
<circle cx="1551.55" cy="792.2" r="7.9"/>
<circle cx="1551.55" cy="641.4" r="7.9"/>
<circle cx="1551.55" cy="784.9" r="7.9"/>
<circle cx="1551.55" cy="799.4" r="7.9"/>
<circle cx="1551.55" cy="821.3" r="7.9"/>
<circle cx="1551.55" cy="753" r="7.9"/>
<circle cx="1551.55" cy="784.9" r="7.9"/>
<circle cx="1551.55" cy="821.3" r="7.9"/>
<circle cx="1551.55" cy="888.2" r="7.9"/>
<circle cx="1551.55" cy="852.5" r="7.9"/>
<circle cx="1551.55" cy="904.1" r="7.9"/>
<circle cx="1551.55" cy="860.3" r="7.9"/>
</g>
<g fill="none" stroke="#ff7f50" stroke-opacity="0.5" stroke-width="2.5">
<circle cx="1415.95" cy="304.4" r="7.15"/>
<circle cx="1415.95" cy="341.5" r="7.15"/>
<circle cx="1415.95" cy="438.9" r="7.15"/>
<circle cx="1415.95" cy="438.9" r="7.15"/>
<circle cx="1415.95" cy="513.6" r="7.15"/>
<circle cx="1415.95" cy="657.3" r="7.15"/>
<circle cx="1415.95" cy="618.2" r="7.15"/>
<circle cx="1415.95" cy="498.8" r="7.15"/>
<circle cx="1415.95" cy="513.6" r="7.15"/>
<circle cx="1415.95" cy="521.6" r="7.15"/>
<circle cx="1415.95" cy="521.6" r="7.15"/>
<circle cx="1415.95" cy="513.6" r="7.15"/>
<circle cx="1415.95" cy="963.3" r="7.15"/>
<circle cx="1415.95" cy="999.1" r="7.15"/>
<circle cx="1415.95" cy="978.1" r="7.15"/>
<circle cx="1415.95" cy="895.4" r="7.15"/>
<circle cx="1415.95" cy="918.6" r="7.15"/>
<circle cx="1415.95" cy="940.8" r="7.15"/>
<circle cx="1415.95" cy="813.9" r="7.15"/>
<circle cx="1415.95" cy="549.9" r="7.15"/>
<circle cx="1415.95" cy="596.4" r="7.15"/>
<circle cx="1415.95" cy="589" r="7.15"/>
<circle cx="1415.95" cy="650.1" r="7.15"/>
<circle cx="1415.95" cy="618.2" r="7.15"/>
<circle cx="1415.95" cy="528.8" r="7.15"/>
<circle cx="1415.95" cy="581.2" r="7.15"/>
<circle cx="1415.95" cy="589" r="7.15"/>
<circle cx="1415.95" cy="650.1" r="7.15"/>
<circle cx="1415.95" cy="657.3" r="7.15"/>
<circle cx="1415.95" cy="626.1" r="7.15"/>
<circle cx="1415.95" cy="664.6" r="7.15"/>
<circle cx="1415.95" cy="693.6" r="7.15"/>
<circle cx="1415.95" cy="626.1" r="7.15"/>
<circle cx="1415.95" cy="664.6" r="7.15"/>
<circle cx="1415.95" cy="709.5" r="7.15"/>
<circle cx="1415.95" cy="693.6" r="7.15"/>
<circle cx="1415.95" cy="724" r="7.15"/>
<circle cx="1415.95" cy="686.3" r="7.15"/>
<circle cx="1415.95" cy="716.8" r="7.15"/>
<circle cx="1415.95" cy="641.4" r="7.15"/>
<circle cx="1415.95" cy="686.3" r="7.15"/>
<circle cx="1415.95" cy="736.3" r="7.15"/>
<circle cx="1415.95" cy="761" r="7.15"/>
<circle cx="1415.95" cy="700.8" r="7.15"/>
<circle cx="1415.95" cy="777.7" r="7.15"/>
<circle cx="1415.95" cy="799.4" r="7.15"/>
<circle cx="1415.95" cy="753" r="7.15"/>
<circle cx="1415.95" cy="671.8" r="7.15"/>
<circle cx="1415.95" cy="806.7" r="7.15"/>
<circle cx="1415.95" cy="851.8" r="7.15"/>
<circle cx="1415.95" cy="792.2" r="7.15"/>
<circle cx="1415.95" cy="777.7" r="7.15"/>
<circle cx="1415.95" cy="836.2" r="7.15"/>
<circle cx="1415.95" cy="844.2" r="7.15"/>
<circle cx="1415.95" cy="784.9" r="7.15"/>
<circle cx="1415.95" cy="851.8" r="7.15"/>
<circle cx="1415.95" cy="844.2" r="7.15"/>
<circle cx="1415.95" cy="903.4" r="7.15"/>
<circle cx="1415.95" cy="836.2" r="7.15"/>
<circle cx="1415.95" cy="895.4" r="7.15"/>
<circle cx="1415.95" cy="903.4" r="7.15"/>
<circle cx="1415.95" cy="873.7" r="7.15"/>
<circle cx="1415.95" cy="918.6" r="7.15"/>
<circle cx="1551.55" cy="304.4" r="7.15"/>
<circle cx="1551.55" cy="349" r="7.15"/>
<circle cx="1551.55" cy="311.6" r="7.15"/>
<circle cx="1551.55" cy="633.4" r="7.15"/>
<circle cx="1551.55" cy="401.5" r="7.15"/>
<circle cx="1551.55" cy="311.6" r="7.15"/>
<circle cx="1551.55" cy="349" r="7.15"/>
<circle cx="1551.55" cy="498.8" r="7.15"/>
<circle cx="1551.55" cy="498.8" r="7.15"/>
<circle cx="1551.55" cy="341.5" r="7.15"/>
<circle cx="1551.55" cy="536.5" r="7.15"/>
<circle cx="1551.55" cy="514.3" r="7.15"/>
<circle cx="1551.55" cy="1031" r="7.15"/>
<circle cx="1551.55" cy="852.5" r="7.15"/>
<circle cx="1551.55" cy="896.1" r="7.15"/>
<circle cx="1551.55" cy="896.1" r="7.15"/>
<circle cx="1551.55" cy="904.1" r="7.15"/>
<circle cx="1551.55" cy="813.9" r="7.15"/>
<circle cx="1551.55" cy="930.9" r="7.15"/>
<circle cx="1551.55" cy="311.6" r="7.15"/>
<circle cx="1551.55" cy="356.6" r="7.15"/>
<circle cx="1551.55" cy="341.5" r="7.15"/>
<circle cx="1551.55" cy="349" r="7.15"/>
<circle cx="1551.55" cy="617.4" r="7.15"/>
<circle cx="1551.55" cy="581" r="7.15"/>
<circle cx="1551.55" cy="664.6" r="7.15"/>
<circle cx="1551.55" cy="701.5" r="7.15"/>
<circle cx="1551.55" cy="671.8" r="7.15"/>
<circle cx="1551.55" cy="677.6" r="7.15"/>
<circle cx="1551.55" cy="596.4" r="7.15"/>
<circle cx="1551.55" cy="617.4" r="7.15"/>
<circle cx="1551.55" cy="617.4" r="7.15"/>
<circle cx="1551.55" cy="657.3" r="7.15"/>
<circle cx="1551.55" cy="650.1" r="7.15"/>
<circle cx="1551.55" cy="657.3" r="7.15"/>
<circle cx="1551.55" cy="617.4" r="7.15"/>
<circle cx="1551.55" cy="724" r="7.15"/>
<circle cx="1551.55" cy="650.1" r="7.15"/>
<circle cx="1551.55" cy="701.5" r="7.15"/>
<circle cx="1551.55" cy="724" r="7.15"/>
<circle cx="1551.55" cy="776.2" r="7.15"/>
<circle cx="1551.55" cy="724" r="7.15"/>
<circle cx="1551.55" cy="738.5" r="7.15"/>
<circle cx="1551.55" cy="693.6" r="7.15"/>
<circle cx="1551.55" cy="650.1" r="7.15"/>
<circle cx="1551.55" cy="625.4" r="7.15"/>
<circle cx="1551.55" cy="701.5" r="7.15"/>
<circle cx="1551.55" cy="650.1" r="7.15"/>
<circle cx="1551.55" cy="792.2" r="7.15"/>
<circle cx="1551.55" cy="761" r="7.15"/>
<circle cx="1551.55" cy="821.3" r="7.15"/>
<circle cx="1551.55" cy="792.2" r="7.15"/>
<circle cx="1551.55" cy="641.4" r="7.15"/>
<circle cx="1551.55" cy="784.9" r="7.15"/>
<circle cx="1551.55" cy="799.4" r="7.15"/>
<circle cx="1551.55" cy="821.3" r="7.15"/>
<circle cx="1551.55" cy="753" r="7.15"/>
<circle cx="1551.55" cy="784.9" r="7.15"/>
<circle cx="1551.55" cy="821.3" r="7.15"/>
<circle cx="1551.55" cy="888.2" r="7.15"/>
<circle cx="1551.55" cy="852.5" r="7.15"/>
<circle cx="1551.55" cy="904.1" r="7.15"/>
<circle cx="1551.55" cy="860.3" r="7.15"/>
</g>
<g stroke="#696969" stroke-width="3.5" fill="#696969">
<path d="M1334.55 546.5V869.5 M1320.95 546.5H1348.15 M1320.95 869.5H1348.15" fill="none"/>
<circle cx="1334.55" cy="707.9" r="12.4" stroke="none"/>
<path d="M1632.95 484.6V836 M1619.35 484.6H1646.55 M1619.35 836H1646.55" fill="none"/>
<circle cx="1632.95" cy="660.4" r="12.4" stroke="none"/>
</g>
</g>
<g id="B1">
<g fill="none" stroke="#0000ff" stroke-opacity="0.4" stroke-width="3.9" stroke-linecap="round" stroke-dasharray="4.6 13.2">
<path d="M360.3 1465.4L499.5 1487.6"/>
<path d="M360.3 1553.9L499.5 1399.2"/>
<path d="M360.3 1619.6L499.5 1465.4"/>
<path d="M360.3 1650L499.5 1471.7"/>
<path d="M360.3 1663.7L499.5 1487.6"/>
<path d="M360.3 1597.8L499.5 1619.6"/>
<path d="M360.3 1663.7L499.5 1597.8"/>
<path d="M360.3 1663.7L499.5 1619.6"/>
<path d="M360.3 2259.7L499.5 2259.7"/>
<path d="M360.3 2259.7L499.5 2259.7"/>
<path d="M360.3 2259.7L499.5 2259.7"/>
<path d="M360.3 2080.1L499.5 2080.1"/>
<path d="M360.3 2259.7L499.5 2151.6"/>
<path d="M360.3 2259.7L499.5 2080.1"/>
<path d="M360.3 2259.7L499.5 1972.5"/>
<path d="M360.3 2223.5L499.5 2008.8"/>
<path d="M360.3 2126.8L499.5 2016.7"/>
<path d="M360.3 2223.5L499.5 2008.8"/>
<path d="M360.3 1901.2L499.5 2151.6"/>
<path d="M360.3 2151.6L499.5 2037.8"/>
<path d="M360.3 2151.6L499.5 2008.8"/>
<path d="M360.3 2151.6L499.5 1972.5"/>
<path d="M360.3 1774.1L499.5 1619.6"/>
<path d="M360.3 1829.2L499.5 1650"/>
<path d="M360.3 1663.7L499.5 1707.9"/>
<path d="M360.3 1597.8L499.5 2061"/>
<path d="M360.3 1707.9L499.5 1686.1"/>
<path d="M360.3 1751.7L499.5 1597.8"/>
<path d="M360.3 1758.2L499.5 1793.7"/>
<path d="M360.3 1796.3L499.5 1774.1"/>
<path d="M360.3 1796.3L499.5 1818.4"/>
<path d="M360.3 1818.4L499.5 1840.8"/>
<path d="M360.3 1829.2L499.5 1864"/>
<path d="M360.3 2008.8L499.5 1707.9"/>
<path d="M360.3 1862.6L499.5 1707.9"/>
<path d="M360.3 2223.5L499.5 1864"/>
<path d="M360.3 2223.5L499.5 1864"/>
<path d="M360.3 1972.5L499.5 2080.1"/>
<path d="M360.3 1972.5L499.5 2080.1"/>
<path d="M360.3 1972.5L499.5 1994.3"/>
<path d="M360.3 1928.4L499.5 2044.3"/>
<path d="M360.3 1994.3L499.5 1840.8"/>
<path d="M360.3 2037.8L499.5 1829.2"/>
<path d="M360.3 1840.1L499.5 1906.5"/>
<path d="M360.3 1884.3L499.5 1818.4"/>
<path d="M360.3 1972.5L499.5 1793.7"/>
<path d="M360.3 2008.8L499.5 2116.5"/>
<path d="M360.3 2045L499.5 2044.3"/>
</g>
<g fill="#0000ff" fill-opacity="0.5">
<circle cx="360.3" cy="1465.4" r="7.9"/>
<circle cx="360.3" cy="1553.9" r="7.9"/>
<circle cx="360.3" cy="1619.6" r="7.9"/>
<circle cx="360.3" cy="1650" r="7.9"/>
<circle cx="360.3" cy="1663.7" r="7.9"/>
<circle cx="360.3" cy="1597.8" r="7.9"/>
<circle cx="360.3" cy="1663.7" r="7.9"/>
<circle cx="360.3" cy="1663.7" r="7.9"/>
<circle cx="360.3" cy="2259.7" r="7.9"/>
<circle cx="360.3" cy="2259.7" r="7.9"/>
<circle cx="360.3" cy="2259.7" r="7.9"/>
<circle cx="360.3" cy="2080.1" r="7.9"/>
<circle cx="360.3" cy="2259.7" r="7.9"/>
<circle cx="360.3" cy="2259.7" r="7.9"/>
<circle cx="360.3" cy="2259.7" r="7.9"/>
<circle cx="360.3" cy="2223.5" r="7.9"/>
<circle cx="360.3" cy="2126.8" r="7.9"/>
<circle cx="360.3" cy="2223.5" r="7.9"/>
<circle cx="360.3" cy="1901.2" r="7.9"/>
<circle cx="360.3" cy="2151.6" r="7.9"/>
<circle cx="360.3" cy="2151.6" r="7.9"/>
<circle cx="360.3" cy="2151.6" r="7.9"/>
<circle cx="360.3" cy="1774.1" r="7.9"/>
<circle cx="360.3" cy="1829.2" r="7.9"/>
<circle cx="360.3" cy="1663.7" r="7.9"/>
<circle cx="360.3" cy="1597.8" r="7.9"/>
<circle cx="360.3" cy="1707.9" r="7.9"/>
<circle cx="360.3" cy="1751.7" r="7.9"/>
<circle cx="360.3" cy="1758.2" r="7.9"/>
<circle cx="360.3" cy="1796.3" r="7.9"/>
<circle cx="360.3" cy="1796.3" r="7.9"/>
<circle cx="360.3" cy="1818.4" r="7.9"/>
<circle cx="360.3" cy="1829.2" r="7.9"/>
<circle cx="360.3" cy="2008.8" r="7.9"/>
<circle cx="360.3" cy="1862.6" r="7.9"/>
<circle cx="360.3" cy="2223.5" r="7.9"/>
<circle cx="360.3" cy="2223.5" r="7.9"/>
<circle cx="360.3" cy="1972.5" r="7.9"/>
<circle cx="360.3" cy="1972.5" r="7.9"/>
<circle cx="360.3" cy="1972.5" r="7.9"/>
<circle cx="360.3" cy="1928.4" r="7.9"/>
<circle cx="360.3" cy="1994.3" r="7.9"/>
<circle cx="360.3" cy="2037.8" r="7.9"/>
<circle cx="360.3" cy="1840.1" r="7.9"/>
<circle cx="360.3" cy="1884.3" r="7.9"/>
<circle cx="360.3" cy="1972.5" r="7.9"/>
<circle cx="360.3" cy="2008.8" r="7.9"/>
<circle cx="360.3" cy="2045" r="7.9"/>
<circle cx="499.5" cy="1487.6" r="7.9"/>
<circle cx="499.5" cy="1399.2" r="7.9"/>
<circle cx="499.5" cy="1465.4" r="7.9"/>
<circle cx="499.5" cy="1471.7" r="7.9"/>
<circle cx="499.5" cy="1487.6" r="7.9"/>
<circle cx="499.5" cy="1619.6" r="7.9"/>
<circle cx="499.5" cy="1597.8" r="7.9"/>
<circle cx="499.5" cy="1619.6" r="7.9"/>
<circle cx="499.5" cy="2259.7" r="7.9"/>
<circle cx="499.5" cy="2259.7" r="7.9"/>
<circle cx="499.5" cy="2259.7" r="7.9"/>
<circle cx="499.5" cy="2080.1" r="7.9"/>
<circle cx="499.5" cy="2151.6" r="7.9"/>
<circle cx="499.5" cy="2080.1" r="7.9"/>
<circle cx="499.5" cy="1972.5" r="7.9"/>
<circle cx="499.5" cy="2008.8" r="7.9"/>
<circle cx="499.5" cy="2016.7" r="7.9"/>
<circle cx="499.5" cy="2008.8" r="7.9"/>
<circle cx="499.5" cy="2151.6" r="7.9"/>
<circle cx="499.5" cy="2037.8" r="7.9"/>
<circle cx="499.5" cy="2008.8" r="7.9"/>
<circle cx="499.5" cy="1972.5" r="7.9"/>
<circle cx="499.5" cy="1619.6" r="7.9"/>
<circle cx="499.5" cy="1650" r="7.9"/>
<circle cx="499.5" cy="1707.9" r="7.9"/>
<circle cx="499.5" cy="2061" r="7.9"/>
<circle cx="499.5" cy="1686.1" r="7.9"/>
<circle cx="499.5" cy="1597.8" r="7.9"/>
<circle cx="499.5" cy="1793.7" r="7.9"/>
<circle cx="499.5" cy="1774.1" r="7.9"/>
<circle cx="499.5" cy="1818.4" r="7.9"/>
<circle cx="499.5" cy="1840.8" r="7.9"/>
<circle cx="499.5" cy="1864" r="7.9"/>
<circle cx="499.5" cy="1707.9" r="7.9"/>
<circle cx="499.5" cy="1707.9" r="7.9"/>
<circle cx="499.5" cy="1864" r="7.9"/>
<circle cx="499.5" cy="1864" r="7.9"/>
<circle cx="499.5" cy="2080.1" r="7.9"/>
<circle cx="499.5" cy="2080.1" r="7.9"/>
<circle cx="499.5" cy="1994.3" r="7.9"/>
<circle cx="499.5" cy="2044.3" r="7.9"/>
<circle cx="499.5" cy="1840.8" r="7.9"/>
<circle cx="499.5" cy="1829.2" r="7.9"/>
<circle cx="499.5" cy="1906.5" r="7.9"/>
<circle cx="499.5" cy="1818.4" r="7.9"/>
<circle cx="499.5" cy="1793.7" r="7.9"/>
<circle cx="499.5" cy="2116.5" r="7.9"/>
<circle cx="499.5" cy="2044.3" r="7.9"/>
</g>
<g fill="none" stroke="#0000ff" stroke-opacity="0.5" stroke-width="2.5">
<circle cx="360.3" cy="1465.4" r="7.15"/>
<circle cx="360.3" cy="1553.9" r="7.15"/>
<circle cx="360.3" cy="1619.6" r="7.15"/>
<circle cx="360.3" cy="1650" r="7.15"/>
<circle cx="360.3" cy="1663.7" r="7.15"/>
<circle cx="360.3" cy="1597.8" r="7.15"/>
<circle cx="360.3" cy="1663.7" r="7.15"/>
<circle cx="360.3" cy="1663.7" r="7.15"/>
<circle cx="360.3" cy="2259.7" r="7.15"/>
<circle cx="360.3" cy="2259.7" r="7.15"/>
<circle cx="360.3" cy="2259.7" r="7.15"/>
<circle cx="360.3" cy="2080.1" r="7.15"/>
<circle cx="360.3" cy="2259.7" r="7.15"/>
<circle cx="360.3" cy="2259.7" r="7.15"/>
<circle cx="360.3" cy="2259.7" r="7.15"/>
<circle cx="360.3" cy="2223.5" r="7.15"/>
<circle cx="360.3" cy="2126.8" r="7.15"/>
<circle cx="360.3" cy="2223.5" r="7.15"/>
<circle cx="360.3" cy="1901.2" r="7.15"/>
<circle cx="360.3" cy="2151.6" r="7.15"/>
<circle cx="360.3" cy="2151.6" r="7.15"/>
<circle cx="360.3" cy="2151.6" r="7.15"/>
<circle cx="360.3" cy="1774.1" r="7.15"/>
<circle cx="360.3" cy="1829.2" r="7.15"/>
<circle cx="360.3" cy="1663.7" r="7.15"/>
<circle cx="360.3" cy="1597.8" r="7.15"/>
<circle cx="360.3" cy="1707.9" r="7.15"/>
<circle cx="360.3" cy="1751.7" r="7.15"/>
<circle cx="360.3" cy="1758.2" r="7.15"/>
<circle cx="360.3" cy="1796.3" r="7.15"/>
<circle cx="360.3" cy="1796.3" r="7.15"/>
<circle cx="360.3" cy="1818.4" r="7.15"/>
<circle cx="360.3" cy="1829.2" r="7.15"/>
<circle cx="360.3" cy="2008.8" r="7.15"/>
<circle cx="360.3" cy="1862.6" r="7.15"/>
<circle cx="360.3" cy="2223.5" r="7.15"/>
<circle cx="360.3" cy="2223.5" r="7.15"/>
<circle cx="360.3" cy="1972.5" r="7.15"/>
<circle cx="360.3" cy="1972.5" r="7.15"/>
<circle cx="360.3" cy="1972.5" r="7.15"/>
<circle cx="360.3" cy="1928.4" r="7.15"/>
<circle cx="360.3" cy="1994.3" r="7.15"/>
<circle cx="360.3" cy="2037.8" r="7.15"/>
<circle cx="360.3" cy="1840.1" r="7.15"/>
<circle cx="360.3" cy="1884.3" r="7.15"/>
<circle cx="360.3" cy="1972.5" r="7.15"/>
<circle cx="360.3" cy="2008.8" r="7.15"/>
<circle cx="360.3" cy="2045" r="7.15"/>
<circle cx="499.5" cy="1487.6" r="7.15"/>
<circle cx="499.5" cy="1399.2" r="7.15"/>
<circle cx="499.5" cy="1465.4" r="7.15"/>
<circle cx="499.5" cy="1471.7" r="7.15"/>
<circle cx="499.5" cy="1487.6" r="7.15"/>
<circle cx="499.5" cy="1619.6" r="7.15"/>
<circle cx="499.5" cy="1597.8" r="7.15"/>
<circle cx="499.5" cy="1619.6" r="7.15"/>
<circle cx="499.5" cy="2259.7" r="7.15"/>
<circle cx="499.5" cy="2259.7" r="7.15"/>
<circle cx="499.5" cy="2259.7" r="7.15"/>
<circle cx="499.5" cy="2080.1" r="7.15"/>
<circle cx="499.5" cy="2151.6" r="7.15"/>
<circle cx="499.5" cy="2080.1" r="7.15"/>
<circle cx="499.5" cy="1972.5" r="7.15"/>
<circle cx="499.5" cy="2008.8" r="7.15"/>
<circle cx="499.5" cy="2016.7" r="7.15"/>
<circle cx="499.5" cy="2008.8" r="7.15"/>
<circle cx="499.5" cy="2151.6" r="7.15"/>
<circle cx="499.5" cy="2037.8" r="7.15"/>
<circle cx="499.5" cy="2008.8" r="7.15"/>
<circle cx="499.5" cy="1972.5" r="7.15"/>
<circle cx="499.5" cy="1619.6" r="7.15"/>
<circle cx="499.5" cy="1650" r="7.15"/>
<circle cx="499.5" cy="1707.9" r="7.15"/>
<circle cx="499.5" cy="2061" r="7.15"/>
<circle cx="499.5" cy="1686.1" r="7.15"/>
<circle cx="499.5" cy="1597.8" r="7.15"/>
<circle cx="499.5" cy="1793.7" r="7.15"/>
<circle cx="499.5" cy="1774.1" r="7.15"/>
<circle cx="499.5" cy="1818.4" r="7.15"/>
<circle cx="499.5" cy="1840.8" r="7.15"/>
<circle cx="499.5" cy="1864" r="7.15"/>
<circle cx="499.5" cy="1707.9" r="7.15"/>
<circle cx="499.5" cy="1707.9" r="7.15"/>
<circle cx="499.5" cy="1864" r="7.15"/>
<circle cx="499.5" cy="1864" r="7.15"/>
<circle cx="499.5" cy="2080.1" r="7.15"/>
<circle cx="499.5" cy="2080.1" r="7.15"/>
<circle cx="499.5" cy="1994.3" r="7.15"/>
<circle cx="499.5" cy="2044.3" r="7.15"/>
<circle cx="499.5" cy="1840.8" r="7.15"/>
<circle cx="499.5" cy="1829.2" r="7.15"/>
<circle cx="499.5" cy="1906.5" r="7.15"/>
<circle cx="499.5" cy="1818.4" r="7.15"/>
<circle cx="499.5" cy="1793.7" r="7.15"/>
<circle cx="499.5" cy="2116.5" r="7.15"/>
<circle cx="499.5" cy="2044.3" r="7.15"/>
</g>
<g stroke="#696969" stroke-width="3.5" fill="#696969">
<path d="M276.8 1705.3V2170.2 M263.2 1705.3H290.4 M263.2 2170.2H290.4" fill="none"/>
<circle cx="276.8" cy="1937.6" r="12.4" stroke="none"/>
<path d="M583 1641.5V2098 M569.4 1641.5H596.6 M569.4 2098H596.6" fill="none"/>
<circle cx="583" cy="1870.2" r="12.4" stroke="none"/>
</g>
</g>
<g id="B2">
<g fill="none" stroke="#006400" stroke-opacity="0.4" stroke-width="3.9" stroke-linecap="round" stroke-dasharray="4.6 13.2">
<path d="M884.2 1399.4L1023.4 1443.7"/>
<path d="M884.2 1399.4L1023.4 1465.4"/>
<path d="M884.2 1421.6L1023.4 1443.7"/>
<path d="M884.2 1421.6L1023.4 1465.4"/>
<path d="M884.2 1465.4L1023.4 1553.9"/>
<path d="M884.2 1509.4L1023.4 1686.1"/>
<path d="M884.2 1619.6L1023.4 1421.6"/>
<path d="M884.2 1650.4L1023.4 1506.9"/>
<path d="M884.2 1575.6L1023.4 1619.6"/>
<path d="M884.2 1663.7L1023.4 1575.6"/>
<path d="M884.2 1642L1023.4 1597.8"/>
<path d="M884.2 1642L1023.4 1729.9"/>
<path d="M884.2 2259.7L1023.4 2259.7"/>
<path d="M884.2 2171L1023.4 2237.3"/>
<path d="M884.2 2259.7L1023.4 1721.2"/>
<path d="M884.2 2080.5L1023.4 2116.6"/>
<path d="M884.2 2080.5L1023.4 2116.6"/>
<path d="M884.2 1936.7L1023.4 1936.7"/>
<path d="M884.2 1818.1L1023.4 1818.1"/>
<path d="M884.2 1840.1L1023.4 1840.1"/>
<path d="M884.2 2038.8L1023.4 2038.8"/>
<path d="M884.2 2149.8L1023.4 2187.5"/>
<path d="M884.2 2171L1023.4 2171"/>
<path d="M884.2 1663.7L1023.4 1840.1"/>
<path d="M884.2 1663.7L1023.4 2171"/>
<path d="M884.2 1686.1L1023.4 1864"/>
<path d="M884.2 1729.9L1023.4 1928.4"/>
<path d="M884.2 1751.9L1023.4 1936.7"/>
<path d="M884.2 1774.1L1023.4 1774.1"/>
<path d="M884.2 1829.2L1023.4 1936.7"/>
<path d="M884.2 1864.8L1023.4 1650"/>
<path d="M884.2 1840.1L1023.4 1751.9"/>
<path d="M884.2 1901.2L1023.4 1972.5"/>
<path d="M884.2 1936.7L1023.4 1793.7"/>
<path d="M884.2 1972.5L1023.4 1936.7"/>
<path d="M884.2 1972.5L1023.4 2016.7"/>
<path d="M884.2 2016.7L1023.4 1928.4"/>
<path d="M884.2 2038.8L1023.4 2061"/>
<path d="M884.2 2038.8L1023.4 2061"/>
<path d="M884.2 2061L1023.4 2038.8"/>
<path d="M884.2 2080.5L1023.4 2016.7"/>
<path d="M884.2 2080.5L1023.4 2008"/>
<path d="M884.2 1818.1L1023.4 1864"/>
<path d="M884.2 1663.7L1023.4 1884.3"/>
<path d="M884.2 2149.8L1023.4 2149.5"/>
<path d="M884.2 2188.1L1023.4 2045"/>
<path d="M884.2 2104.5L1023.4 2194.1"/>
<path d="M884.2 2116.6L1023.4 2061"/>
</g>
<g fill="#006400" fill-opacity="0.5">
<circle cx="884.2" cy="1399.4" r="7.9"/>
<circle cx="884.2" cy="1399.4" r="7.9"/>
<circle cx="884.2" cy="1421.6" r="7.9"/>
<circle cx="884.2" cy="1421.6" r="7.9"/>
<circle cx="884.2" cy="1465.4" r="7.9"/>
<circle cx="884.2" cy="1509.4" r="7.9"/>
<circle cx="884.2" cy="1619.6" r="7.9"/>
<circle cx="884.2" cy="1650.4" r="7.9"/>
<circle cx="884.2" cy="1575.6" r="7.9"/>
<circle cx="884.2" cy="1663.7" r="7.9"/>
<circle cx="884.2" cy="1642" r="7.9"/>
<circle cx="884.2" cy="1642" r="7.9"/>
<circle cx="884.2" cy="2259.7" r="7.9"/>
<circle cx="884.2" cy="2171" r="7.9"/>
<circle cx="884.2" cy="2259.7" r="7.9"/>
<circle cx="884.2" cy="2080.5" r="7.9"/>
<circle cx="884.2" cy="2080.5" r="7.9"/>
<circle cx="884.2" cy="1936.7" r="7.9"/>
<circle cx="884.2" cy="1818.1" r="7.9"/>
<circle cx="884.2" cy="1840.1" r="7.9"/>
<circle cx="884.2" cy="2038.8" r="7.9"/>
<circle cx="884.2" cy="2149.8" r="7.9"/>
<circle cx="884.2" cy="2171" r="7.9"/>
<circle cx="884.2" cy="1663.7" r="7.9"/>
<circle cx="884.2" cy="1663.7" r="7.9"/>
<circle cx="884.2" cy="1686.1" r="7.9"/>
<circle cx="884.2" cy="1729.9" r="7.9"/>
<circle cx="884.2" cy="1751.9" r="7.9"/>
<circle cx="884.2" cy="1774.1" r="7.9"/>
<circle cx="884.2" cy="1829.2" r="7.9"/>
<circle cx="884.2" cy="1864.8" r="7.9"/>
<circle cx="884.2" cy="1840.1" r="7.9"/>
<circle cx="884.2" cy="1901.2" r="7.9"/>
<circle cx="884.2" cy="1936.7" r="7.9"/>
<circle cx="884.2" cy="1972.5" r="7.9"/>
<circle cx="884.2" cy="1972.5" r="7.9"/>
<circle cx="884.2" cy="2016.7" r="7.9"/>
<circle cx="884.2" cy="2038.8" r="7.9"/>
<circle cx="884.2" cy="2038.8" r="7.9"/>
<circle cx="884.2" cy="2061" r="7.9"/>
<circle cx="884.2" cy="2080.5" r="7.9"/>
<circle cx="884.2" cy="2080.5" r="7.9"/>
<circle cx="884.2" cy="1818.1" r="7.9"/>
<circle cx="884.2" cy="1663.7" r="7.9"/>
<circle cx="884.2" cy="2149.8" r="7.9"/>
<circle cx="884.2" cy="2188.1" r="7.9"/>
<circle cx="884.2" cy="2104.5" r="7.9"/>
<circle cx="884.2" cy="2116.6" r="7.9"/>
<circle cx="1023.4" cy="1443.7" r="7.9"/>
<circle cx="1023.4" cy="1465.4" r="7.9"/>
<circle cx="1023.4" cy="1443.7" r="7.9"/>
<circle cx="1023.4" cy="1465.4" r="7.9"/>
<circle cx="1023.4" cy="1553.9" r="7.9"/>
<circle cx="1023.4" cy="1686.1" r="7.9"/>
<circle cx="1023.4" cy="1421.6" r="7.9"/>
<circle cx="1023.4" cy="1506.9" r="7.9"/>
<circle cx="1023.4" cy="1619.6" r="7.9"/>
<circle cx="1023.4" cy="1575.6" r="7.9"/>
<circle cx="1023.4" cy="1597.8" r="7.9"/>
<circle cx="1023.4" cy="1729.9" r="7.9"/>
<circle cx="1023.4" cy="2259.7" r="7.9"/>
<circle cx="1023.4" cy="2237.3" r="7.9"/>
<circle cx="1023.4" cy="1721.2" r="7.9"/>
<circle cx="1023.4" cy="2116.6" r="7.9"/>
<circle cx="1023.4" cy="2116.6" r="7.9"/>
<circle cx="1023.4" cy="1936.7" r="7.9"/>
<circle cx="1023.4" cy="1818.1" r="7.9"/>
<circle cx="1023.4" cy="1840.1" r="7.9"/>
<circle cx="1023.4" cy="2038.8" r="7.9"/>
<circle cx="1023.4" cy="2187.5" r="7.9"/>
<circle cx="1023.4" cy="2171" r="7.9"/>
<circle cx="1023.4" cy="1840.1" r="7.9"/>
<circle cx="1023.4" cy="2171" r="7.9"/>
<circle cx="1023.4" cy="1864" r="7.9"/>
<circle cx="1023.4" cy="1928.4" r="7.9"/>
<circle cx="1023.4" cy="1936.7" r="7.9"/>
<circle cx="1023.4" cy="1774.1" r="7.9"/>
<circle cx="1023.4" cy="1936.7" r="7.9"/>
<circle cx="1023.4" cy="1650" r="7.9"/>
<circle cx="1023.4" cy="1751.9" r="7.9"/>
<circle cx="1023.4" cy="1972.5" r="7.9"/>
<circle cx="1023.4" cy="1793.7" r="7.9"/>
<circle cx="1023.4" cy="1936.7" r="7.9"/>
<circle cx="1023.4" cy="2016.7" r="7.9"/>
<circle cx="1023.4" cy="1928.4" r="7.9"/>
<circle cx="1023.4" cy="2061" r="7.9"/>
<circle cx="1023.4" cy="2061" r="7.9"/>
<circle cx="1023.4" cy="2038.8" r="7.9"/>
<circle cx="1023.4" cy="2016.7" r="7.9"/>
<circle cx="1023.4" cy="2008" r="7.9"/>
<circle cx="1023.4" cy="1864" r="7.9"/>
<circle cx="1023.4" cy="1884.3" r="7.9"/>
<circle cx="1023.4" cy="2149.5" r="7.9"/>
<circle cx="1023.4" cy="2045" r="7.9"/>
<circle cx="1023.4" cy="2194.1" r="7.9"/>
<circle cx="1023.4" cy="2061" r="7.9"/>
</g>
<g fill="none" stroke="#006400" stroke-opacity="0.5" stroke-width="2.5">
<circle cx="884.2" cy="1399.4" r="7.15"/>
<circle cx="884.2" cy="1399.4" r="7.15"/>
<circle cx="884.2" cy="1421.6" r="7.15"/>
<circle cx="884.2" cy="1421.6" r="7.15"/>
<circle cx="884.2" cy="1465.4" r="7.15"/>
<circle cx="884.2" cy="1509.4" r="7.15"/>
<circle cx="884.2" cy="1619.6" r="7.15"/>
<circle cx="884.2" cy="1650.4" r="7.15"/>
<circle cx="884.2" cy="1575.6" r="7.15"/>
<circle cx="884.2" cy="1663.7" r="7.15"/>
<circle cx="884.2" cy="1642" r="7.15"/>
<circle cx="884.2" cy="1642" r="7.15"/>
<circle cx="884.2" cy="2259.7" r="7.15"/>
<circle cx="884.2" cy="2171" r="7.15"/>
<circle cx="884.2" cy="2259.7" r="7.15"/>
<circle cx="884.2" cy="2080.5" r="7.15"/>
<circle cx="884.2" cy="2080.5" r="7.15"/>
<circle cx="884.2" cy="1936.7" r="7.15"/>
<circle cx="884.2" cy="1818.1" r="7.15"/>
<circle cx="884.2" cy="1840.1" r="7.15"/>
<circle cx="884.2" cy="2038.8" r="7.15"/>
<circle cx="884.2" cy="2149.8" r="7.15"/>
<circle cx="884.2" cy="2171" r="7.15"/>
<circle cx="884.2" cy="1663.7" r="7.15"/>
<circle cx="884.2" cy="1663.7" r="7.15"/>
<circle cx="884.2" cy="1686.1" r="7.15"/>
<circle cx="884.2" cy="1729.9" r="7.15"/>
<circle cx="884.2" cy="1751.9" r="7.15"/>
<circle cx="884.2" cy="1774.1" r="7.15"/>
<circle cx="884.2" cy="1829.2" r="7.15"/>
<circle cx="884.2" cy="1864.8" r="7.15"/>
<circle cx="884.2" cy="1840.1" r="7.15"/>
<circle cx="884.2" cy="1901.2" r="7.15"/>
<circle cx="884.2" cy="1936.7" r="7.15"/>
<circle cx="884.2" cy="1972.5" r="7.15"/>
<circle cx="884.2" cy="1972.5" r="7.15"/>
<circle cx="884.2" cy="2016.7" r="7.15"/>
<circle cx="884.2" cy="2038.8" r="7.15"/>
<circle cx="884.2" cy="2038.8" r="7.15"/>
<circle cx="884.2" cy="2061" r="7.15"/>
<circle cx="884.2" cy="2080.5" r="7.15"/>
<circle cx="884.2" cy="2080.5" r="7.15"/>
<circle cx="884.2" cy="1818.1" r="7.15"/>
<circle cx="884.2" cy="1663.7" r="7.15"/>
<circle cx="884.2" cy="2149.8" r="7.15"/>
<circle cx="884.2" cy="2188.1" r="7.15"/>
<circle cx="884.2" cy="2104.5" r="7.15"/>
<circle cx="884.2" cy="2116.6" r="7.15"/>
<circle cx="1023.4" cy="1443.7" r="7.15"/>
<circle cx="1023.4" cy="1465.4" r="7.15"/>
<circle cx="1023.4" cy="1443.7" r="7.15"/>
<circle cx="1023.4" cy="1465.4" r="7.15"/>
<circle cx="1023.4" cy="1553.9" r="7.15"/>
<circle cx="1023.4" cy="1686.1" r="7.15"/>
<circle cx="1023.4" cy="1421.6" r="7.15"/>
<circle cx="1023.4" cy="1506.9" r="7.15"/>
<circle cx="1023.4" cy="1619.6" r="7.15"/>
<circle cx="1023.4" cy="1575.6" r="7.15"/>
<circle cx="1023.4" cy="1597.8" r="7.15"/>
<circle cx="1023.4" cy="1729.9" r="7.15"/>
<circle cx="1023.4" cy="2259.7" r="7.15"/>
<circle cx="1023.4" cy="2237.3" r="7.15"/>
<circle cx="1023.4" cy="1721.2" r="7.15"/>
<circle cx="1023.4" cy="2116.6" r="7.15"/>
<circle cx="1023.4" cy="2116.6" r="7.15"/>
<circle cx="1023.4" cy="1936.7" r="7.15"/>
<circle cx="1023.4" cy="1818.1" r="7.15"/>
<circle cx="1023.4" cy="1840.1" r="7.15"/>
<circle cx="1023.4" cy="2038.8" r="7.15"/>
<circle cx="1023.4" cy="2187.5" r="7.15"/>
<circle cx="1023.4" cy="2171" r="7.15"/>
<circle cx="1023.4" cy="1840.1" r="7.15"/>
<circle cx="1023.4" cy="2171" r="7.15"/>
<circle cx="1023.4" cy="1864" r="7.15"/>
<circle cx="1023.4" cy="1928.4" r="7.15"/>
<circle cx="1023.4" cy="1936.7" r="7.15"/>
<circle cx="1023.4" cy="1774.1" r="7.15"/>
<circle cx="1023.4" cy="1936.7" r="7.15"/>
<circle cx="1023.4" cy="1650" r="7.15"/>
<circle cx="1023.4" cy="1751.9" r="7.15"/>
<circle cx="1023.4" cy="1972.5" r="7.15"/>
<circle cx="1023.4" cy="1793.7" r="7.15"/>
<circle cx="1023.4" cy="1936.7" r="7.15"/>
<circle cx="1023.4" cy="2016.7" r="7.15"/>
<circle cx="1023.4" cy="1928.4" r="7.15"/>
<circle cx="1023.4" cy="2061" r="7.15"/>
<circle cx="1023.4" cy="2061" r="7.15"/>
<circle cx="1023.4" cy="2038.8" r="7.15"/>
<circle cx="1023.4" cy="2016.7" r="7.15"/>
<circle cx="1023.4" cy="2008" r="7.15"/>
<circle cx="1023.4" cy="1864" r="7.15"/>
<circle cx="1023.4" cy="1884.3" r="7.15"/>
<circle cx="1023.4" cy="2149.5" r="7.15"/>
<circle cx="1023.4" cy="2045" r="7.15"/>
<circle cx="1023.4" cy="2194.1" r="7.15"/>
<circle cx="1023.4" cy="2061" r="7.15"/>
</g>
<g stroke="#696969" stroke-width="3.5" fill="#696969">
<path d="M800.9 1622.9V2118.7 M787.3 1622.9H814.5 M787.3 2118.7H814.5" fill="none"/>
<circle cx="800.9" cy="1870.6" r="12.4" stroke="none"/>
<path d="M1107.1 1635.6V2109.3 M1093.5 1635.6H1120.7 M1093.5 2109.3H1120.7" fill="none"/>
<circle cx="1107.1" cy="1872.4" r="12.4" stroke="none"/>
</g>
</g>
<g id="B3">
<g fill="none" stroke="#ff7f50" stroke-opacity="0.4" stroke-width="3.9" stroke-linecap="round" stroke-dasharray="4.6 13.2">
<path d="M1408 1443.3L1547.2 1244.7"/>
<path d="M1408 1487.6L1547.2 1443.3"/>
<path d="M1408 1685.9L1547.2 1471.2"/>
<path d="M1408 1509.5L1547.2 1641.7"/>
<path d="M1408 1793.3L1547.2 1506.8"/>
<path d="M1408 2259.4L1547.2 2080"/>
<path d="M1408 2215.1L1547.2 2148.7"/>
<path d="M1408 2170.9L1547.2 2170.9"/>
<path d="M1408 2148.7L1547.2 2148.7"/>
<path d="M1408 2126.7L1547.2 2126.7"/>
<path d="M1408 1730.1L1547.2 1685.9"/>
<path d="M1408 1650L1547.2 1575.7"/>
<path d="M1408 1708L1547.2 1685.9"/>
<path d="M1408 1708L1547.2 1730.1"/>
<path d="M1408 1793.3L1547.2 1730.1"/>
<path d="M1408 1685.9L1547.2 1619.9"/>
<path d="M1408 1708L1547.2 1685.9"/>
<path d="M1408 1730.1L1547.2 1793.3"/>
<path d="M1408 1774.4L1547.2 1774.4"/>
<path d="M1408 1840.5L1547.2 1575.7"/>
<path d="M1408 1884.4L1547.2 1641.7"/>
<path d="M1408 1906.5L1547.2 1721.4"/>
<path d="M1408 1995L1547.2 1840.5"/>
<path d="M1408 1950.7L1547.2 1828.9"/>
<path d="M1408 1995L1547.2 1906.5"/>
<path d="M1408 1862.5L1547.2 1936.9"/>
<path d="M1408 1840.5L1547.2 1663.9"/>
<path d="M1408 1995L1547.2 1774.4"/>
<path d="M1408 1906.5L1547.2 1840.5"/>
<path d="M1408 1884.4L1547.2 1995"/>
<path d="M1408 1828.9L1547.2 1884.4"/>
<path d="M1408 2148.7L1547.2 1818"/>
<path d="M1408 2044.1L1547.2 1950.7"/>
<path d="M1408 2060.8L1547.2 1863"/>
<path d="M1408 2193.4L1547.2 2038.3"/>
<path d="M1408 2016.8L1547.2 1863"/>
<path d="M1408 1899.9L1547.2 1863"/>
<path d="M1408 2082L1547.2 1972.4"/>
<path d="M1408 2044.1L1547.2 2080"/>
<path d="M1408 1840.5L1547.2 2038.3"/>
<path d="M1408 2044.1L1547.2 1906.5"/>
<path d="M1408 2148.7L1547.2 1899.9"/>
<path d="M1408 2082L1547.2 1950.7"/>
<path d="M1408 2115.8L1547.2 2104.9"/>
<path d="M1408 2187.6L1547.2 2016.8"/>
<path d="M1408 2082L1547.2 2060.8"/>
<path d="M1408 2060.8L1547.2 2016.8"/>
<path d="M1408 2104.9L1547.2 2193.4"/>
<path d="M1408 2115.8L1547.2 2187.6"/>
<path d="M1408 2193.4L1547.2 2126.7"/>
<path d="M1408 2038.3L1547.2 1972.4"/>
<path d="M1408 2193.4L1547.2 2193.4"/>
</g>
<g fill="#ff7f50" fill-opacity="0.5">
<circle cx="1408" cy="1443.3" r="7.9"/>
<circle cx="1408" cy="1487.6" r="7.9"/>
<circle cx="1408" cy="1685.9" r="7.9"/>
<circle cx="1408" cy="1509.5" r="7.9"/>
<circle cx="1408" cy="1793.3" r="7.9"/>
<circle cx="1408" cy="2259.4" r="7.9"/>
<circle cx="1408" cy="2215.1" r="7.9"/>
<circle cx="1408" cy="2170.9" r="7.9"/>
<circle cx="1408" cy="2148.7" r="7.9"/>
<circle cx="1408" cy="2126.7" r="7.9"/>
<circle cx="1408" cy="1730.1" r="7.9"/>
<circle cx="1408" cy="1650" r="7.9"/>
<circle cx="1408" cy="1708" r="7.9"/>
<circle cx="1408" cy="1708" r="7.9"/>
<circle cx="1408" cy="1793.3" r="7.9"/>
<circle cx="1408" cy="1685.9" r="7.9"/>
<circle cx="1408" cy="1708" r="7.9"/>
<circle cx="1408" cy="1730.1" r="7.9"/>
<circle cx="1408" cy="1774.4" r="7.9"/>
<circle cx="1408" cy="1840.5" r="7.9"/>
<circle cx="1408" cy="1884.4" r="7.9"/>
<circle cx="1408" cy="1906.5" r="7.9"/>
<circle cx="1408" cy="1995" r="7.9"/>
<circle cx="1408" cy="1950.7" r="7.9"/>
<circle cx="1408" cy="1995" r="7.9"/>
<circle cx="1408" cy="1862.5" r="7.9"/>
<circle cx="1408" cy="1840.5" r="7.9"/>
<circle cx="1408" cy="1995" r="7.9"/>
<circle cx="1408" cy="1906.5" r="7.9"/>
<circle cx="1408" cy="1884.4" r="7.9"/>
<circle cx="1408" cy="1828.9" r="7.9"/>
<circle cx="1408" cy="2148.7" r="7.9"/>
<circle cx="1408" cy="2044.1" r="7.9"/>
<circle cx="1408" cy="2060.8" r="7.9"/>
<circle cx="1408" cy="2193.4" r="7.9"/>
<circle cx="1408" cy="2016.8" r="7.9"/>
<circle cx="1408" cy="1899.9" r="7.9"/>
<circle cx="1408" cy="2082" r="7.9"/>
<circle cx="1408" cy="2044.1" r="7.9"/>
<circle cx="1408" cy="1840.5" r="7.9"/>
<circle cx="1408" cy="2044.1" r="7.9"/>
<circle cx="1408" cy="2148.7" r="7.9"/>
<circle cx="1408" cy="2082" r="7.9"/>
<circle cx="1408" cy="2115.8" r="7.9"/>
<circle cx="1408" cy="2187.6" r="7.9"/>
<circle cx="1408" cy="2082" r="7.9"/>
<circle cx="1408" cy="2060.8" r="7.9"/>
<circle cx="1408" cy="2104.9" r="7.9"/>
<circle cx="1408" cy="2115.8" r="7.9"/>
<circle cx="1408" cy="2193.4" r="7.9"/>
<circle cx="1408" cy="2038.3" r="7.9"/>
<circle cx="1408" cy="2193.4" r="7.9"/>
<circle cx="1547.2" cy="1244.7" r="7.9"/>
<circle cx="1547.2" cy="1443.3" r="7.9"/>
<circle cx="1547.2" cy="1471.2" r="7.9"/>
<circle cx="1547.2" cy="1641.7" r="7.9"/>
<circle cx="1547.2" cy="1506.8" r="7.9"/>
<circle cx="1547.2" cy="2080" r="7.9"/>
<circle cx="1547.2" cy="2148.7" r="7.9"/>
<circle cx="1547.2" cy="2170.9" r="7.9"/>
<circle cx="1547.2" cy="2148.7" r="7.9"/>
<circle cx="1547.2" cy="2126.7" r="7.9"/>
<circle cx="1547.2" cy="1685.9" r="7.9"/>
<circle cx="1547.2" cy="1575.7" r="7.9"/>
<circle cx="1547.2" cy="1685.9" r="7.9"/>
<circle cx="1547.2" cy="1730.1" r="7.9"/>
<circle cx="1547.2" cy="1730.1" r="7.9"/>
<circle cx="1547.2" cy="1619.9" r="7.9"/>
<circle cx="1547.2" cy="1685.9" r="7.9"/>
<circle cx="1547.2" cy="1793.3" r="7.9"/>
<circle cx="1547.2" cy="1774.4" r="7.9"/>
<circle cx="1547.2" cy="1575.7" r="7.9"/>
<circle cx="1547.2" cy="1641.7" r="7.9"/>
<circle cx="1547.2" cy="1721.4" r="7.9"/>
<circle cx="1547.2" cy="1840.5" r="7.9"/>
<circle cx="1547.2" cy="1828.9" r="7.9"/>
<circle cx="1547.2" cy="1906.5" r="7.9"/>
<circle cx="1547.2" cy="1936.9" r="7.9"/>
<circle cx="1547.2" cy="1663.9" r="7.9"/>
<circle cx="1547.2" cy="1774.4" r="7.9"/>
<circle cx="1547.2" cy="1840.5" r="7.9"/>
<circle cx="1547.2" cy="1995" r="7.9"/>
<circle cx="1547.2" cy="1884.4" r="7.9"/>
<circle cx="1547.2" cy="1818" r="7.9"/>
<circle cx="1547.2" cy="1950.7" r="7.9"/>
<circle cx="1547.2" cy="1863" r="7.9"/>
<circle cx="1547.2" cy="2038.3" r="7.9"/>
<circle cx="1547.2" cy="1863" r="7.9"/>
<circle cx="1547.2" cy="1863" r="7.9"/>
<circle cx="1547.2" cy="1972.4" r="7.9"/>
<circle cx="1547.2" cy="2080" r="7.9"/>
<circle cx="1547.2" cy="2038.3" r="7.9"/>
<circle cx="1547.2" cy="1906.5" r="7.9"/>
<circle cx="1547.2" cy="1899.9" r="7.9"/>
<circle cx="1547.2" cy="1950.7" r="7.9"/>
<circle cx="1547.2" cy="2104.9" r="7.9"/>
<circle cx="1547.2" cy="2016.8" r="7.9"/>
<circle cx="1547.2" cy="2060.8" r="7.9"/>
<circle cx="1547.2" cy="2016.8" r="7.9"/>
<circle cx="1547.2" cy="2193.4" r="7.9"/>
<circle cx="1547.2" cy="2187.6" r="7.9"/>
<circle cx="1547.2" cy="2126.7" r="7.9"/>
<circle cx="1547.2" cy="1972.4" r="7.9"/>
<circle cx="1547.2" cy="2193.4" r="7.9"/>
</g>
<g fill="none" stroke="#ff7f50" stroke-opacity="0.5" stroke-width="2.5">
<circle cx="1408" cy="1443.3" r="7.15"/>
<circle cx="1408" cy="1487.6" r="7.15"/>
<circle cx="1408" cy="1685.9" r="7.15"/>
<circle cx="1408" cy="1509.5" r="7.15"/>
<circle cx="1408" cy="1793.3" r="7.15"/>
<circle cx="1408" cy="2259.4" r="7.15"/>
<circle cx="1408" cy="2215.1" r="7.15"/>
<circle cx="1408" cy="2170.9" r="7.15"/>
<circle cx="1408" cy="2148.7" r="7.15"/>
<circle cx="1408" cy="2126.7" r="7.15"/>
<circle cx="1408" cy="1730.1" r="7.15"/>
<circle cx="1408" cy="1650" r="7.15"/>
<circle cx="1408" cy="1708" r="7.15"/>
<circle cx="1408" cy="1708" r="7.15"/>
<circle cx="1408" cy="1793.3" r="7.15"/>
<circle cx="1408" cy="1685.9" r="7.15"/>
<circle cx="1408" cy="1708" r="7.15"/>
<circle cx="1408" cy="1730.1" r="7.15"/>
<circle cx="1408" cy="1774.4" r="7.15"/>
<circle cx="1408" cy="1840.5" r="7.15"/>
<circle cx="1408" cy="1884.4" r="7.15"/>
<circle cx="1408" cy="1906.5" r="7.15"/>
<circle cx="1408" cy="1995" r="7.15"/>
<circle cx="1408" cy="1950.7" r="7.15"/>
<circle cx="1408" cy="1995" r="7.15"/>
<circle cx="1408" cy="1862.5" r="7.15"/>
<circle cx="1408" cy="1840.5" r="7.15"/>
<circle cx="1408" cy="1995" r="7.15"/>
<circle cx="1408" cy="1906.5" r="7.15"/>
<circle cx="1408" cy="1884.4" r="7.15"/>
<circle cx="1408" cy="1828.9" r="7.15"/>
<circle cx="1408" cy="2148.7" r="7.15"/>
<circle cx="1408" cy="2044.1" r="7.15"/>
<circle cx="1408" cy="2060.8" r="7.15"/>
<circle cx="1408" cy="2193.4" r="7.15"/>
<circle cx="1408" cy="2016.8" r="7.15"/>
<circle cx="1408" cy="1899.9" r="7.15"/>
<circle cx="1408" cy="2082" r="7.15"/>
<circle cx="1408" cy="2044.1" r="7.15"/>
<circle cx="1408" cy="1840.5" r="7.15"/>
<circle cx="1408" cy="2044.1" r="7.15"/>
<circle cx="1408" cy="2148.7" r="7.15"/>
<circle cx="1408" cy="2082" r="7.15"/>
<circle cx="1408" cy="2115.8" r="7.15"/>
<circle cx="1408" cy="2187.6" r="7.15"/>
<circle cx="1408" cy="2082" r="7.15"/>
<circle cx="1408" cy="2060.8" r="7.15"/>
<circle cx="1408" cy="2104.9" r="7.15"/>
<circle cx="1408" cy="2115.8" r="7.15"/>
<circle cx="1408" cy="2193.4" r="7.15"/>
<circle cx="1408" cy="2038.3" r="7.15"/>
<circle cx="1408" cy="2193.4" r="7.15"/>
<circle cx="1547.2" cy="1244.7" r="7.15"/>
<circle cx="1547.2" cy="1443.3" r="7.15"/>
<circle cx="1547.2" cy="1471.2" r="7.15"/>
<circle cx="1547.2" cy="1641.7" r="7.15"/>
<circle cx="1547.2" cy="1506.8" r="7.15"/>
<circle cx="1547.2" cy="2080" r="7.15"/>
<circle cx="1547.2" cy="2148.7" r="7.15"/>
<circle cx="1547.2" cy="2170.9" r="7.15"/>
<circle cx="1547.2" cy="2148.7" r="7.15"/>
<circle cx="1547.2" cy="2126.7" r="7.15"/>
<circle cx="1547.2" cy="1685.9" r="7.15"/>
<circle cx="1547.2" cy="1575.7" r="7.15"/>
<circle cx="1547.2" cy="1685.9" r="7.15"/>
<circle cx="1547.2" cy="1730.1" r="7.15"/>
<circle cx="1547.2" cy="1730.1" r="7.15"/>
<circle cx="1547.2" cy="1619.9" r="7.15"/>
<circle cx="1547.2" cy="1685.9" r="7.15"/>
<circle cx="1547.2" cy="1793.3" r="7.15"/>
<circle cx="1547.2" cy="1774.4" r="7.15"/>
<circle cx="1547.2" cy="1575.7" r="7.15"/>
<circle cx="1547.2" cy="1641.7" r="7.15"/>
<circle cx="1547.2" cy="1721.4" r="7.15"/>
<circle cx="1547.2" cy="1840.5" r="7.15"/>
<circle cx="1547.2" cy="1828.9" r="7.15"/>
<circle cx="1547.2" cy="1906.5" r="7.15"/>
<circle cx="1547.2" cy="1936.9" r="7.15"/>
<circle cx="1547.2" cy="1663.9" r="7.15"/>
<circle cx="1547.2" cy="1774.4" r="7.15"/>
<circle cx="1547.2" cy="1840.5" r="7.15"/>
<circle cx="1547.2" cy="1995" r="7.15"/>
<circle cx="1547.2" cy="1884.4" r="7.15"/>
<circle cx="1547.2" cy="1818" r="7.15"/>
<circle cx="1547.2" cy="1950.7" r="7.15"/>
<circle cx="1547.2" cy="1863" r="7.15"/>
<circle cx="1547.2" cy="2038.3" r="7.15"/>
<circle cx="1547.2" cy="1863" r="7.15"/>
<circle cx="1547.2" cy="1863" r="7.15"/>
<circle cx="1547.2" cy="1972.4" r="7.15"/>
<circle cx="1547.2" cy="2080" r="7.15"/>
<circle cx="1547.2" cy="2038.3" r="7.15"/>
<circle cx="1547.2" cy="1906.5" r="7.15"/>
<circle cx="1547.2" cy="1899.9" r="7.15"/>
<circle cx="1547.2" cy="1950.7" r="7.15"/>
<circle cx="1547.2" cy="2104.9" r="7.15"/>
<circle cx="1547.2" cy="2016.8" r="7.15"/>
<circle cx="1547.2" cy="2060.8" r="7.15"/>
<circle cx="1547.2" cy="2016.8" r="7.15"/>
<circle cx="1547.2" cy="2193.4" r="7.15"/>
<circle cx="1547.2" cy="2187.6" r="7.15"/>
<circle cx="1547.2" cy="2126.7" r="7.15"/>
<circle cx="1547.2" cy="1972.4" r="7.15"/>
<circle cx="1547.2" cy="2193.4" r="7.15"/>
</g>
<g stroke="#696969" stroke-width="3.5" fill="#696969">
<path d="M1324.5 1745.9V2134.7 M1310.9 1745.9H1338.1 M1310.9 2134.7H1338.1" fill="none"/>
<circle cx="1324.5" cy="1940.2" r="12.4" stroke="none"/>
<path d="M1630.7 1647.1V2068.3 M1617.1 1647.1H1644.3 M1617.1 2068.3H1644.3" fill="none"/>
<circle cx="1630.7" cy="1857.4" r="12.4" stroke="none"/>
</g>
</g>
<g id="labels">
<text transform="translate(10.1 61.9) scale(0.9703 1)" font-size="86.6" font-weight="700" fill="#000">A</text>
<text transform="translate(11.25 1242.7) scale(0.9333 1)" font-size="86.6" font-weight="700" fill="#000">B</text>
<text transform="translate(285.75 75) scale(0.9551 1)" font-size="78.5" font-weight="400" fill="#1a1a1a">BALANCE</text>
<text transform="translate(825.12 75) scale(0.9640 1)" font-size="78.5" font-weight="400" fill="#1a1a1a">CARDIO</text>
<text transform="translate(1333.98 75) scale(0.9579 1)" font-size="78.5" font-weight="400" fill="#1a1a1a">MENTAL</text>
<text transform="translate(56.9 915.99) rotate(-90) scale(0.9583 1)" font-size="78.1" font-weight="400" fill="#000">Math score (easy)</text>
<text transform="translate(56.9 2081.01) rotate(-90) scale(0.9612 1)" font-size="78.1" font-weight="400" fill="#000">Math score (difficult)</text>
<text transform="translate(232.9 2281) scale(0.9915 1)" font-size="61" font-weight="400" fill="#000">pre</text>
<text transform="translate(525.96 2281) scale(0.9742 1)" font-size="61" font-weight="400" fill="#000">post</text>
<text transform="translate(757 2281) scale(0.9915 1)" font-size="61" font-weight="400" fill="#000">pre</text>
<text transform="translate(1050.06 2281) scale(0.9742 1)" font-size="61" font-weight="400" fill="#000">post</text>
<text transform="translate(1280.6 2281) scale(0.9915 1)" font-size="61" font-weight="400" fill="#000">pre</text>
<text transform="translate(1573.66 2281) scale(0.9742 1)" font-size="61" font-weight="400" fill="#000">post</text>
<text transform="translate(444.4 243) scale(1.0838 1)" font-size="74.05" font-weight="700" fill="#000">*</text>
<text transform="translate(1467.35 243) scale(1.0838 1)" font-size="74.05" font-weight="700" fill="#000">*</text>
<text transform="translate(413.45 1330.2) scale(1.0838 1)" font-size="74.05" font-weight="700" fill="#000">*</text>
<text transform="translate(1461.25 1330.2) scale(1.0838 1)" font-size="74.05" font-weight="700" fill="#000">*</text>
</g>
<g fill="#000" font-size="68.6" text-anchor="end" letter-spacing="-1.3">
<text x="194.76" y="1106.97">0</text>
<text x="194.76" y="873.36">30</text>
<text x="194.76" y="639.75">60</text>
<text x="194.76" y="406.14">90</text>
<text x="194.76" y="172.53">120</text>
<text x="157.86" y="2284.27">0</text>
<text x="157.86" y="2026.12">30</text>
<text x="157.86" y="1767.97">60</text>
<text x="157.86" y="1509.82">90</text>
</g>
</svg></body></html>
